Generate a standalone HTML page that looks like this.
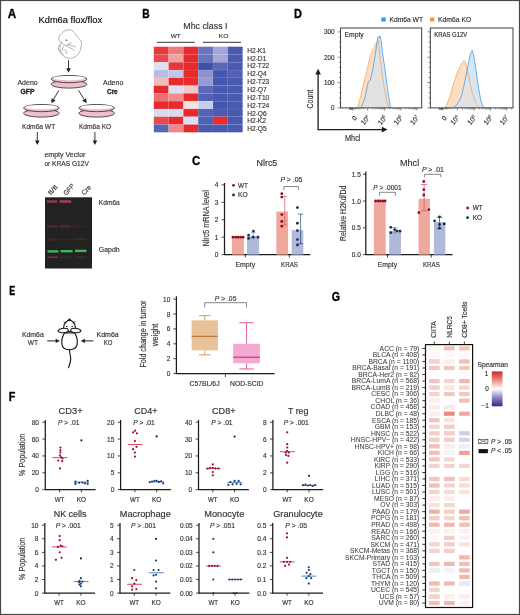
<!DOCTYPE html><html><head><meta charset="utf-8"><style>html,body{margin:0;padding:0;background:#fff;}svg{display:block;will-change:transform;}text{font-family:"Liberation Sans",sans-serif;}</style></head><body>
<svg width="520" height="615" viewBox="0 0 520 615">
<rect x="0.00" y="0.00" width="520.00" height="615.00" fill="#fff"/>
<text x="7.70" y="17.60" font-size="12.4" font-weight="bold" fill="#000" textLength="8.40" lengthAdjust="spacingAndGlyphs" stroke="#000" stroke-width="0.35">A</text>
<text x="142.30" y="17.70" font-size="12.4" font-weight="bold" fill="#000" textLength="7.40" lengthAdjust="spacingAndGlyphs" stroke="#000" stroke-width="0.35">B</text>
<text x="294.00" y="17.50" font-size="12.4" font-weight="bold" fill="#000" textLength="7.90" lengthAdjust="spacingAndGlyphs" stroke="#000" stroke-width="0.35">D</text>
<text x="191.90" y="165.00" font-size="12.4" font-weight="bold" fill="#000" textLength="8.20" lengthAdjust="spacingAndGlyphs" stroke="#000" stroke-width="0.35">C</text>
<text x="9.20" y="295.20" font-size="12.4" font-weight="bold" fill="#000" textLength="5.90" lengthAdjust="spacingAndGlyphs" stroke="#000" stroke-width="0.35">E</text>
<text x="8.70" y="401.40" font-size="12.4" font-weight="bold" fill="#000" textLength="6.60" lengthAdjust="spacingAndGlyphs" stroke="#000" stroke-width="0.35">F</text>
<text x="331.80" y="300.90" font-size="12.4" font-weight="bold" fill="#000" textLength="8.30" lengthAdjust="spacingAndGlyphs" stroke="#000" stroke-width="0.35">G</text>
<text x="38.50" y="22.90" font-size="8.5" textLength="63.60" lengthAdjust="spacingAndGlyphs" stroke="#231f20" stroke-width="0.15">Kdm6a flox/flox</text>
<g fill="none" stroke="#666" stroke-width="0.5" stroke-linejoin="round" stroke-linecap="round"><path d="M61.7,42.7 C60,41.6 58.4,40.4 58.6,38.7 C59,36.4 60,34.8 61.4,33.4 C63.6,31.2 66.2,29.8 68.8,29.8 C71,29.8 72.6,30.6 73.8,32.2 C75,33.8 76.6,36.6 79.2,38.7 C81,40.2 81.6,41.6 81.4,43.6 C81.3,46 80.8,49.8 79.2,52.8 C77.8,55.4 74.6,57.8 70.6,58.4 C67.4,58.8 63.6,56.6 61.2,53.8 C59.4,51.8 58.4,49.6 58.6,47.6 C58.8,45.8 59.8,44.2 61.7,42.7 Z"/><path d="M61.7,42.7 C63.2,44.2 64.8,45.4 66.3,45.5 C67.2,45.5 67.8,45.1 68.4,44.7"/><path d="M68.2,44.8 C70.4,45.2 72.8,45.8 75.5,46.7"/><path d="M66.8,46.2 C68.2,47 69.4,47.6 70.6,48.2 C71.8,48.8 73.2,49.6 74.3,50.6"/><path d="M63.4,46.6 C62.8,47.8 62.2,49 62.2,50.6"/><path d="M65.2,49.6 C65.8,50.8 66.4,52.2 66.9,53.6"/><path d="M60.4,44.9 C59.8,47.2 59.8,49.6 60.6,51.2 C61.3,52.8 62.2,54 63.4,54.8"/><path d="M68.6,43.6 C69.4,42.8 70.3,42.6 71.2,43.2"/><circle cx="66.3" cy="40.3" r="0.8"/></g>
<line x1="68.50" y1="60.20" x2="68.50" y2="68.80" stroke="#231f20" stroke-width="0.9"/>
<path d="M66.20,68.30 L70.80,68.30 L68.50,72.80 Z" fill="#231f20"/>
<ellipse cx="69.05" cy="84.20" rx="17.90" ry="3.9" fill="#f0c0ca" stroke="#333" stroke-width="0.85"/>
<ellipse cx="69.05" cy="79.10" rx="17.90" ry="3.6" fill="#f0c0ca" stroke="#333" stroke-width="0.85"/>
<ellipse cx="69.05" cy="78.10" rx="15.90" ry="2.15" fill="#fff"/>
<ellipse cx="41.40" cy="113.20" rx="17.90" ry="3.9" fill="#f0c0ca" stroke="#333" stroke-width="0.85"/>
<ellipse cx="41.40" cy="108.10" rx="17.90" ry="3.6" fill="#f0c0ca" stroke="#333" stroke-width="0.85"/>
<ellipse cx="41.40" cy="107.10" rx="15.90" ry="2.15" fill="#fff"/>
<ellipse cx="96.70" cy="113.20" rx="17.90" ry="3.9" fill="#f0c0ca" stroke="#333" stroke-width="0.85"/>
<ellipse cx="96.70" cy="108.10" rx="17.90" ry="3.6" fill="#f0c0ca" stroke="#333" stroke-width="0.85"/>
<ellipse cx="96.70" cy="107.10" rx="15.90" ry="2.15" fill="#fff"/>
<text x="17.40" y="84.80" font-size="7" fill="#333" textLength="20.30" lengthAdjust="spacingAndGlyphs" stroke="#333" stroke-width="0.15">Adeno</text>
<text x="20.60" y="93.50" font-size="7" font-weight="bold" fill="#222" textLength="13.90" lengthAdjust="spacingAndGlyphs" stroke="#222" stroke-width="0.3">GFP</text>
<text x="103.00" y="84.80" font-size="7" fill="#333" textLength="20.30" lengthAdjust="spacingAndGlyphs" stroke="#333" stroke-width="0.15">Adeno</text>
<text x="107.00" y="93.50" font-size="7" font-weight="bold" fill="#222" textLength="10.70" lengthAdjust="spacingAndGlyphs" stroke="#222" stroke-width="0.3">Cre</text>
<line x1="58.80" y1="90.40" x2="53.32" y2="99.75" stroke="#231f20" stroke-width="0.9"/>
<path d="M51.59,98.15 L55.56,100.48 L51.30,103.20 Z" fill="#231f20"/>
<line x1="78.50" y1="90.40" x2="84.46" y2="99.82" stroke="#231f20" stroke-width="0.9"/>
<path d="M82.25,100.63 L86.14,98.17 L86.60,103.20 Z" fill="#231f20"/>
<text x="22.00" y="128.70" font-size="7" fill="#333" textLength="33.20" lengthAdjust="spacingAndGlyphs" stroke="#333" stroke-width="0.15">Kdm6a WT</text>
<text x="78.90" y="128.70" font-size="7" fill="#333" textLength="32.30" lengthAdjust="spacingAndGlyphs" stroke="#333" stroke-width="0.15">Kdm6a KO</text>
<line x1="37.30" y1="132.00" x2="37.30" y2="141.00" stroke="#231f20" stroke-width="0.9"/>
<path d="M35.00,140.50 L39.60,140.50 L37.30,145.00 Z" fill="#231f20"/>
<line x1="94.90" y1="132.00" x2="94.90" y2="141.00" stroke="#231f20" stroke-width="0.9"/>
<path d="M92.60,140.50 L97.20,140.50 L94.90,145.00 Z" fill="#231f20"/>
<text x="44.40" y="157.30" font-size="7" fill="#333" textLength="41.00" lengthAdjust="spacingAndGlyphs" stroke="#333" stroke-width="0.15">empty Vector</text>
<text x="44.40" y="166.10" font-size="7" fill="#333" textLength="44.50" lengthAdjust="spacingAndGlyphs" stroke="#333" stroke-width="0.15">or KRAS G12V</text>
<text x="51.00" y="195.60" font-size="6.7" fill="#333" textLength="10.80" lengthAdjust="spacingAndGlyphs" transform="rotate(-48 51.00 195.60)" stroke="#333" stroke-width="0.15">fl/fl</text>
<text x="66.20" y="195.80" font-size="6.7" fill="#333" textLength="13.00" lengthAdjust="spacingAndGlyphs" transform="rotate(-48 66.20 195.80)" stroke="#333" stroke-width="0.15">GFP</text>
<text x="84.20" y="195.60" font-size="6.7" fill="#333" textLength="10.80" lengthAdjust="spacingAndGlyphs" transform="rotate(-48 84.20 195.60)" stroke="#333" stroke-width="0.15">Cre</text>
<rect x="45.00" y="197.30" width="47.00" height="71.20" fill="#222222"/>
<defs><filter id="bl" x="-20%" y="-100%" width="140%" height="300%"><feGaussianBlur stdDeviation="0.55"/></filter></defs>
<g filter="url(#bl)">
<rect x="47.0" y="200.30" width="10.20" height="2.4" fill="#b04050" opacity="0.85"/>
<rect x="59.5" y="200.30" width="11.70" height="2.4" fill="#b84452" opacity="0.9"/>
<rect x="47.0" y="225.20" width="10.50" height="2.2" fill="#6a2c36" opacity="0.7"/>
<rect x="59.5" y="225.20" width="11.50" height="2.2" fill="#6a2c36" opacity="0.7"/>
<rect x="73.5" y="225.60" width="12.50" height="1.8" fill="#4a2a30" opacity="0.5"/>
<rect x="47.0" y="238.70" width="10.50" height="1.8" fill="#5a2a32" opacity="0.6"/>
<rect x="59.5" y="238.80" width="11.50" height="1.6" fill="#4a2a30" opacity="0.5"/>
<rect x="73.5" y="238.50" width="12.50" height="1.8" fill="#5a2a32" opacity="0.6"/>
<rect x="47.5" y="250.20" width="11.10" height="2.4" fill="#48b860" opacity="0.95"/>
<rect x="60.6" y="250.00" width="12.00" height="2.4" fill="#48b860" opacity="0.95"/>
<rect x="75.0" y="249.70" width="11.50" height="2.4" fill="#48b860" opacity="0.95"/>
<rect x="47.5" y="256.30" width="10.50" height="1.8" fill="#8a3042" opacity="0.8"/>
<rect x="60.0" y="256.40" width="12.00" height="1.6" fill="#5a2a34" opacity="0.6"/>
<rect x="75.0" y="256.40" width="11.00" height="1.6" fill="#5a2a34" opacity="0.6"/>
</g>
<text x="98.80" y="204.90" font-size="7.2" fill="#333" textLength="21.00" lengthAdjust="spacingAndGlyphs" stroke="#333" stroke-width="0.15">Kdm6a</text>
<text x="98.80" y="252.00" font-size="7.2" fill="#333" textLength="20.80" lengthAdjust="spacingAndGlyphs" stroke="#333" stroke-width="0.15">Gapdh</text>
<text x="183.30" y="28.80" font-size="9.5" fill="#333" textLength="44.20" lengthAdjust="spacingAndGlyphs" stroke="#333" stroke-width="0.15">Mhc class I</text>
<text x="170.80" y="38.00" font-size="6.2" fill="#333" textLength="10.00" lengthAdjust="spacingAndGlyphs" stroke="#333" stroke-width="0.15">WT</text>
<text x="218.80" y="38.00" font-size="6.2" fill="#333" textLength="9.70" lengthAdjust="spacingAndGlyphs" stroke="#333" stroke-width="0.15">KO</text>
<line x1="156.90" y1="42.30" x2="194.80" y2="42.30" stroke="#333" stroke-width="1.0"/>
<line x1="202.90" y1="42.30" x2="241.00" y2="42.30" stroke="#333" stroke-width="1.0"/>
<rect x="153.80" y="46.70" width="14.85" height="7.83" fill="#e83a3c"/>
<rect x="168.60" y="46.70" width="14.85" height="7.83" fill="#ee7c7e"/>
<rect x="183.40" y="46.70" width="14.85" height="7.83" fill="#e62a2e"/>
<rect x="198.20" y="46.70" width="14.85" height="7.83" fill="#6a74bc"/>
<rect x="213.00" y="46.70" width="14.85" height="7.83" fill="#a4a8d8"/>
<rect x="227.80" y="46.70" width="14.85" height="7.83" fill="#4a5ab0"/>
<rect x="153.80" y="54.48" width="14.85" height="7.83" fill="#e84a4c"/>
<rect x="168.60" y="54.48" width="14.85" height="7.83" fill="#f2a2a2"/>
<rect x="183.40" y="54.48" width="14.85" height="7.83" fill="#e62a2e"/>
<rect x="198.20" y="54.48" width="14.85" height="7.83" fill="#6a74bc"/>
<rect x="213.00" y="54.48" width="14.85" height="7.83" fill="#a4a8d8"/>
<rect x="227.80" y="54.48" width="14.85" height="7.83" fill="#4a5ab0"/>
<rect x="153.80" y="62.26" width="14.85" height="7.83" fill="#dfe0f2"/>
<rect x="168.60" y="62.26" width="14.85" height="7.83" fill="#e6383a"/>
<rect x="183.40" y="62.26" width="14.85" height="7.83" fill="#e62a2e"/>
<rect x="198.20" y="62.26" width="14.85" height="7.83" fill="#3f50a8"/>
<rect x="213.00" y="62.26" width="14.85" height="7.83" fill="#5c68b6"/>
<rect x="227.80" y="62.26" width="14.85" height="7.83" fill="#4a5ab0"/>
<rect x="153.80" y="70.04" width="14.85" height="7.83" fill="#b8bde2"/>
<rect x="168.60" y="70.04" width="14.85" height="7.83" fill="#c4c6e8"/>
<rect x="183.40" y="70.04" width="14.85" height="7.83" fill="#e62a2e"/>
<rect x="198.20" y="70.04" width="14.85" height="7.83" fill="#8c92cc"/>
<rect x="213.00" y="70.04" width="14.85" height="7.83" fill="#4656ae"/>
<rect x="227.80" y="70.04" width="14.85" height="7.83" fill="#5262b4"/>
<rect x="153.80" y="77.82" width="14.85" height="7.83" fill="#f3bcbc"/>
<rect x="168.60" y="77.82" width="14.85" height="7.83" fill="#e62a2e"/>
<rect x="183.40" y="77.82" width="14.85" height="7.83" fill="#e62a2e"/>
<rect x="198.20" y="77.82" width="14.85" height="7.83" fill="#969cd2"/>
<rect x="213.00" y="77.82" width="14.85" height="7.83" fill="#4656ae"/>
<rect x="227.80" y="77.82" width="14.85" height="7.83" fill="#4a5ab0"/>
<rect x="153.80" y="85.60" width="14.85" height="7.83" fill="#e62a2e"/>
<rect x="168.60" y="85.60" width="14.85" height="7.83" fill="#dcdff4"/>
<rect x="183.40" y="85.60" width="14.85" height="7.83" fill="#f5c8c8"/>
<rect x="198.20" y="85.60" width="14.85" height="7.83" fill="#5e68b8"/>
<rect x="213.00" y="85.60" width="14.85" height="7.83" fill="#4a58ae"/>
<rect x="227.80" y="85.60" width="14.85" height="7.83" fill="#4a5ab0"/>
<rect x="153.80" y="93.38" width="14.85" height="7.83" fill="#ec6e70"/>
<rect x="168.60" y="93.38" width="14.85" height="7.83" fill="#f08c8c"/>
<rect x="183.40" y="93.38" width="14.85" height="7.83" fill="#e62a2e"/>
<rect x="198.20" y="93.38" width="14.85" height="7.83" fill="#5262b4"/>
<rect x="213.00" y="93.38" width="14.85" height="7.83" fill="#4a58ae"/>
<rect x="227.80" y="93.38" width="14.85" height="7.83" fill="#4a5ab0"/>
<rect x="153.80" y="101.16" width="14.85" height="7.83" fill="#e62a2e"/>
<rect x="168.60" y="101.16" width="14.85" height="7.83" fill="#e62a2e"/>
<rect x="183.40" y="101.16" width="14.85" height="7.83" fill="#fae0e0"/>
<rect x="198.20" y="101.16" width="14.85" height="7.83" fill="#c8ccec"/>
<rect x="213.00" y="101.16" width="14.85" height="7.83" fill="#4656ae"/>
<rect x="227.80" y="101.16" width="14.85" height="7.83" fill="#4a5ab0"/>
<rect x="153.80" y="108.94" width="14.85" height="7.83" fill="#d8dcf0"/>
<rect x="168.60" y="108.94" width="14.85" height="7.83" fill="#d8dcf0"/>
<rect x="183.40" y="108.94" width="14.85" height="7.83" fill="#e62a2e"/>
<rect x="198.20" y="108.94" width="14.85" height="7.83" fill="#5262b4"/>
<rect x="213.00" y="108.94" width="14.85" height="7.83" fill="#4a5cb0"/>
<rect x="227.80" y="108.94" width="14.85" height="7.83" fill="#4a5ab0"/>
<rect x="153.80" y="116.72" width="14.85" height="7.83" fill="#e84a4c"/>
<rect x="168.60" y="116.72" width="14.85" height="7.83" fill="#e62a2e"/>
<rect x="183.40" y="116.72" width="14.85" height="7.83" fill="#dde0f4"/>
<rect x="198.20" y="116.72" width="14.85" height="7.83" fill="#5060b2"/>
<rect x="213.00" y="116.72" width="14.85" height="7.83" fill="#ee2a2a"/>
<rect x="227.80" y="116.72" width="14.85" height="7.83" fill="#4a5ab0"/>
<rect x="153.80" y="124.50" width="14.85" height="7.83" fill="#5468b8"/>
<rect x="168.60" y="124.50" width="14.85" height="7.83" fill="#ee8888"/>
<rect x="183.40" y="124.50" width="14.85" height="7.83" fill="#e62a2e"/>
<rect x="198.20" y="124.50" width="14.85" height="7.83" fill="#4a5ab0"/>
<rect x="213.00" y="124.50" width="14.85" height="7.83" fill="#4a5ab0"/>
<rect x="227.80" y="124.50" width="14.85" height="7.83" fill="#4a5ab0"/>
<line x1="168.60" y1="46.70" x2="168.60" y2="132.28" stroke="#ffffff" stroke-width="0.35" opacity="0.22"/>
<line x1="183.40" y1="46.70" x2="183.40" y2="132.28" stroke="#ffffff" stroke-width="0.35" opacity="0.22"/>
<line x1="198.20" y1="46.70" x2="198.20" y2="132.28" stroke="#ffffff" stroke-width="0.35" opacity="0.22"/>
<line x1="213.00" y1="46.70" x2="213.00" y2="132.28" stroke="#ffffff" stroke-width="0.35" opacity="0.22"/>
<line x1="227.80" y1="46.70" x2="227.80" y2="132.28" stroke="#ffffff" stroke-width="0.35" opacity="0.22"/>
<line x1="153.80" y1="54.48" x2="242.60" y2="54.48" stroke="#ffffff" stroke-width="0.35" opacity="0.22"/>
<line x1="153.80" y1="62.26" x2="242.60" y2="62.26" stroke="#ffffff" stroke-width="0.35" opacity="0.22"/>
<line x1="153.80" y1="70.04" x2="242.60" y2="70.04" stroke="#ffffff" stroke-width="0.35" opacity="0.22"/>
<line x1="153.80" y1="77.82" x2="242.60" y2="77.82" stroke="#ffffff" stroke-width="0.35" opacity="0.22"/>
<line x1="153.80" y1="85.60" x2="242.60" y2="85.60" stroke="#ffffff" stroke-width="0.35" opacity="0.22"/>
<line x1="153.80" y1="93.38" x2="242.60" y2="93.38" stroke="#ffffff" stroke-width="0.35" opacity="0.22"/>
<line x1="153.80" y1="101.16" x2="242.60" y2="101.16" stroke="#ffffff" stroke-width="0.35" opacity="0.22"/>
<line x1="153.80" y1="108.94" x2="242.60" y2="108.94" stroke="#ffffff" stroke-width="0.35" opacity="0.22"/>
<line x1="153.80" y1="116.72" x2="242.60" y2="116.72" stroke="#ffffff" stroke-width="0.35" opacity="0.22"/>
<line x1="153.80" y1="124.50" x2="242.60" y2="124.50" stroke="#ffffff" stroke-width="0.35" opacity="0.22"/>
<text x="247.20" y="52.70" font-size="6.5" fill="#333" textLength="18.79" lengthAdjust="spacingAndGlyphs" stroke="#333" stroke-width="0.15">H2-K1</text>
<text x="247.20" y="60.56" font-size="6.5" fill="#333" textLength="19.16" lengthAdjust="spacingAndGlyphs" stroke="#333" stroke-width="0.15">H2-D1</text>
<text x="247.20" y="68.42" font-size="6.5" fill="#333" textLength="22.11" lengthAdjust="spacingAndGlyphs" stroke="#333" stroke-width="0.15">H2-T22</text>
<text x="247.20" y="76.28" font-size="6.5" fill="#333" textLength="19.53" lengthAdjust="spacingAndGlyphs" stroke="#333" stroke-width="0.15">H2-Q4</text>
<text x="247.20" y="84.14" font-size="6.5" fill="#333" textLength="22.11" lengthAdjust="spacingAndGlyphs" stroke="#333" stroke-width="0.15">H2-T23</text>
<text x="247.20" y="92.00" font-size="6.5" fill="#333" textLength="19.53" lengthAdjust="spacingAndGlyphs" stroke="#333" stroke-width="0.15">H2-Q7</text>
<text x="247.20" y="99.86" font-size="6.5" fill="#333" textLength="22.11" lengthAdjust="spacingAndGlyphs" stroke="#333" stroke-width="0.15">H2-T10</text>
<text x="247.20" y="107.72" font-size="6.5" fill="#333" textLength="22.11" lengthAdjust="spacingAndGlyphs" stroke="#333" stroke-width="0.15">H2-T24</text>
<text x="247.20" y="115.58" font-size="6.5" fill="#333" textLength="19.53" lengthAdjust="spacingAndGlyphs" stroke="#333" stroke-width="0.15">H2-Q6</text>
<text x="247.20" y="123.44" font-size="6.5" fill="#333" textLength="18.79" lengthAdjust="spacingAndGlyphs" stroke="#333" stroke-width="0.15">H2-K2</text>
<text x="247.20" y="131.30" font-size="6.5" fill="#333" textLength="19.53" lengthAdjust="spacingAndGlyphs" stroke="#333" stroke-width="0.15">H2-Q5</text>
<rect x="381.30" y="17.50" width="4.40" height="4.00" fill="#3d9ad6"/>
<text x="389.50" y="22.10" font-size="6.6" fill="#333" textLength="33.50" lengthAdjust="spacingAndGlyphs" stroke="#333" stroke-width="0.15">Kdm6a WT</text>
<rect x="430.00" y="17.50" width="4.40" height="4.00" fill="#ef9b32"/>
<text x="438.00" y="22.10" font-size="6.6" fill="#333" textLength="33.30" lengthAdjust="spacingAndGlyphs" stroke="#333" stroke-width="0.15">Kdm6a KO</text>
<polygon points="357.70,107.90 357.70,107.60 360.20,98.00 362.60,88.60 365.00,78.50 367.60,67.40 370.40,55.40 372.20,51.50 374.00,48.30 376.80,42.00 378.20,40.60 379.60,53.30 381.70,71.70 384.60,90.00 387.40,104.20 388.80,107.60 388.80,107.90" fill="#fcdfc2"/>
<polygon points="361.20,107.90 361.20,107.60 364.80,98.50 368.30,81.60 370.40,80.20 373.20,67.40 376.10,49.00 377.90,37.00 378.90,36.00 379.60,38.20 380.20,36.40 381.00,39.50 382.40,51.90 385.30,71.70 388.10,92.90 390.20,105.60 391.20,107.60 391.20,107.90" fill="#d5e6f6"/>
<clipPath id="c340"><polygon points="357.70,107.90 357.70,107.60 360.20,98.00 362.60,88.60 365.00,78.50 367.60,67.40 370.40,55.40 372.20,51.50 374.00,48.30 376.80,42.00 378.20,40.60 379.60,53.30 381.70,71.70 384.60,90.00 387.40,104.20 388.80,107.60 388.80,107.90"/></clipPath>
<polygon points="361.20,107.90 361.20,107.60 364.80,98.50 368.30,81.60 370.40,80.20 373.20,67.40 376.10,49.00 377.90,37.00 378.90,36.00 379.60,38.20 380.20,36.40 381.00,39.50 382.40,51.90 385.30,71.70 388.10,92.90 390.20,105.60 391.20,107.60 391.20,107.90" fill="#e4e2e1" clip-path="url(#c340)"/>
<polyline points="357.70,107.60 360.20,98.00 362.60,88.60 365.00,78.50 367.60,67.40 370.40,55.40 372.20,51.50 374.00,48.30 376.80,42.00 378.20,40.60 379.60,53.30 381.70,71.70 384.60,90.00 387.40,104.20 388.80,107.60" fill="none" stroke="#eda04e" stroke-width="0.7"/>
<polyline points="361.20,107.60 364.80,98.50 368.30,81.60 370.40,80.20 373.20,67.40 376.10,49.00 377.90,37.00 378.90,36.00 379.60,38.20 380.20,36.40 381.00,39.50 382.40,51.90 385.30,71.70 388.10,92.90 390.20,105.60 391.20,107.60" fill="none" stroke="#4a9fdc" stroke-width="0.8"/>
<rect x="340.60" y="28.00" width="81.10" height="79.90" fill="none" stroke="#2a2a2a" stroke-width="0.9"/>
<text x="344.60" y="36.50" font-size="7.0" fill="#2a2a2a" textLength="19.00" lengthAdjust="spacingAndGlyphs" stroke="#2a2a2a" stroke-width="0.15">Empty</text>
<line x1="337.60" y1="107.90" x2="340.60" y2="107.90" stroke="#333" stroke-width="0.55"/>
<line x1="339.00" y1="102.83" x2="340.60" y2="102.83" stroke="#333" stroke-width="0.55"/>
<line x1="339.00" y1="97.77" x2="340.60" y2="97.77" stroke="#333" stroke-width="0.55"/>
<line x1="339.00" y1="92.70" x2="340.60" y2="92.70" stroke="#333" stroke-width="0.55"/>
<line x1="339.00" y1="87.63" x2="340.60" y2="87.63" stroke="#333" stroke-width="0.55"/>
<line x1="337.60" y1="82.57" x2="340.60" y2="82.57" stroke="#333" stroke-width="0.55"/>
<line x1="339.00" y1="77.50" x2="340.60" y2="77.50" stroke="#333" stroke-width="0.55"/>
<line x1="339.00" y1="72.43" x2="340.60" y2="72.43" stroke="#333" stroke-width="0.55"/>
<line x1="339.00" y1="67.37" x2="340.60" y2="67.37" stroke="#333" stroke-width="0.55"/>
<line x1="339.00" y1="62.30" x2="340.60" y2="62.30" stroke="#333" stroke-width="0.55"/>
<line x1="337.60" y1="57.23" x2="340.60" y2="57.23" stroke="#333" stroke-width="0.55"/>
<line x1="339.00" y1="52.17" x2="340.60" y2="52.17" stroke="#333" stroke-width="0.55"/>
<line x1="339.00" y1="47.10" x2="340.60" y2="47.10" stroke="#333" stroke-width="0.55"/>
<line x1="339.00" y1="42.03" x2="340.60" y2="42.03" stroke="#333" stroke-width="0.55"/>
<line x1="339.00" y1="36.97" x2="340.60" y2="36.97" stroke="#333" stroke-width="0.55"/>
<line x1="337.60" y1="31.90" x2="340.60" y2="31.90" stroke="#333" stroke-width="0.55"/>
<line x1="353.00" y1="107.90" x2="353.00" y2="110.50" stroke="#333" stroke-width="0.55"/>
<line x1="367.70" y1="107.90" x2="367.70" y2="110.50" stroke="#333" stroke-width="0.55"/>
<line x1="384.70" y1="107.90" x2="384.70" y2="110.50" stroke="#333" stroke-width="0.55"/>
<line x1="400.90" y1="107.90" x2="400.90" y2="110.50" stroke="#333" stroke-width="0.55"/>
<line x1="417.00" y1="107.90" x2="417.00" y2="110.50" stroke="#333" stroke-width="0.55"/>
<line x1="372.82" y1="107.90" x2="372.82" y2="109.40" stroke="#333" stroke-width="0.45"/>
<line x1="375.81" y1="107.90" x2="375.81" y2="109.40" stroke="#333" stroke-width="0.45"/>
<line x1="377.94" y1="107.90" x2="377.94" y2="109.40" stroke="#333" stroke-width="0.45"/>
<line x1="379.58" y1="107.90" x2="379.58" y2="109.40" stroke="#333" stroke-width="0.45"/>
<line x1="380.93" y1="107.90" x2="380.93" y2="109.40" stroke="#333" stroke-width="0.45"/>
<line x1="382.07" y1="107.90" x2="382.07" y2="109.40" stroke="#333" stroke-width="0.45"/>
<line x1="383.05" y1="107.90" x2="383.05" y2="109.40" stroke="#333" stroke-width="0.45"/>
<line x1="383.92" y1="107.90" x2="383.92" y2="109.40" stroke="#333" stroke-width="0.45"/>
<line x1="389.58" y1="107.90" x2="389.58" y2="109.40" stroke="#333" stroke-width="0.45"/>
<line x1="392.43" y1="107.90" x2="392.43" y2="109.40" stroke="#333" stroke-width="0.45"/>
<line x1="394.45" y1="107.90" x2="394.45" y2="109.40" stroke="#333" stroke-width="0.45"/>
<line x1="396.02" y1="107.90" x2="396.02" y2="109.40" stroke="#333" stroke-width="0.45"/>
<line x1="397.31" y1="107.90" x2="397.31" y2="109.40" stroke="#333" stroke-width="0.45"/>
<line x1="398.39" y1="107.90" x2="398.39" y2="109.40" stroke="#333" stroke-width="0.45"/>
<line x1="399.33" y1="107.90" x2="399.33" y2="109.40" stroke="#333" stroke-width="0.45"/>
<line x1="400.16" y1="107.90" x2="400.16" y2="109.40" stroke="#333" stroke-width="0.45"/>
<line x1="405.75" y1="107.90" x2="405.75" y2="109.40" stroke="#333" stroke-width="0.45"/>
<line x1="408.58" y1="107.90" x2="408.58" y2="109.40" stroke="#333" stroke-width="0.45"/>
<line x1="410.59" y1="107.90" x2="410.59" y2="109.40" stroke="#333" stroke-width="0.45"/>
<line x1="412.15" y1="107.90" x2="412.15" y2="109.40" stroke="#333" stroke-width="0.45"/>
<line x1="413.43" y1="107.90" x2="413.43" y2="109.40" stroke="#333" stroke-width="0.45"/>
<line x1="414.51" y1="107.90" x2="414.51" y2="109.40" stroke="#333" stroke-width="0.45"/>
<line x1="415.44" y1="107.90" x2="415.44" y2="109.40" stroke="#333" stroke-width="0.45"/>
<line x1="416.26" y1="107.90" x2="416.26" y2="109.40" stroke="#333" stroke-width="0.45"/>
<line x1="363.50" y1="107.90" x2="363.50" y2="109.30" stroke="#333" stroke-width="0.45"/>
<line x1="361.04" y1="107.90" x2="361.04" y2="109.30" stroke="#333" stroke-width="0.45"/>
<line x1="359.29" y1="107.90" x2="359.29" y2="109.30" stroke="#333" stroke-width="0.45"/>
<line x1="357.94" y1="107.90" x2="357.94" y2="109.30" stroke="#333" stroke-width="0.45"/>
<line x1="356.83" y1="107.90" x2="356.83" y2="109.30" stroke="#333" stroke-width="0.45"/>
<line x1="355.90" y1="107.90" x2="355.90" y2="109.30" stroke="#333" stroke-width="0.45"/>
<line x1="355.09" y1="107.90" x2="355.09" y2="109.30" stroke="#333" stroke-width="0.45"/>
<line x1="354.37" y1="107.90" x2="354.37" y2="109.30" stroke="#333" stroke-width="0.45"/>
<line x1="349.50" y1="107.90" x2="349.50" y2="109.70" stroke="#222" stroke-width="0.6"/>
<line x1="350.30" y1="107.90" x2="350.30" y2="109.70" stroke="#222" stroke-width="0.6"/>
<line x1="351.10" y1="107.90" x2="351.10" y2="109.70" stroke="#222" stroke-width="0.6"/>
<line x1="351.80" y1="107.90" x2="351.80" y2="109.70" stroke="#222" stroke-width="0.6"/>
<line x1="352.40" y1="107.90" x2="352.40" y2="109.70" stroke="#222" stroke-width="0.6"/>
<text x="355.00" y="120.90" font-size="6.6" fill="#333" transform="rotate(-50 355.00 120.90)" stroke="#333" stroke-width="0.15">0</text>
<text x="363.90" y="125.60" font-size="7.0" fill="#333" stroke="#333" stroke-width="0.12" transform="rotate(-50 363.90 125.60)">10<tspan font-size="4.2" dy="-2.7">4</tspan></text>
<text x="380.90" y="125.60" font-size="7.0" fill="#333" stroke="#333" stroke-width="0.12" transform="rotate(-50 380.90 125.60)">10<tspan font-size="4.2" dy="-2.7">5</tspan></text>
<text x="397.10" y="125.60" font-size="7.0" fill="#333" stroke="#333" stroke-width="0.12" transform="rotate(-50 397.10 125.60)">10<tspan font-size="4.2" dy="-2.7">6</tspan></text>
<text x="413.20" y="125.60" font-size="7.0" fill="#333" stroke="#333" stroke-width="0.12" transform="rotate(-50 413.20 125.60)">10<tspan font-size="4.2" dy="-2.7">7</tspan></text>
<polygon points="445.40,107.90 445.40,107.60 447.40,103.00 449.20,98.50 451.00,93.00 452.60,87.00 453.80,82.50 454.60,81.00 455.60,77.50 456.60,74.50 457.80,71.00 458.80,69.50 459.60,67.00 460.40,66.20 461.40,64.20 462.50,62.40 463.30,61.20 464.30,60.80 465.20,61.80 466.10,64.50 467.40,70.00 468.80,77.00 470.40,85.00 472.20,92.50 474.20,99.00 476.40,104.20 478.80,107.60 478.80,107.90" fill="#fcdfc2"/>
<polygon points="453.60,107.90 453.60,107.60 456.50,105.00 459.60,100.50 461.80,95.00 463.70,86.50 465.50,78.00 467.20,69.80 468.60,62.00 469.60,57.40 470.60,53.60 471.30,51.80 472.30,50.30 473.20,53.50 473.90,57.20 475.40,65.80 477.20,78.70 479.20,92.00 480.80,100.00 482.40,105.20 484.20,107.60 484.20,107.90" fill="#d5e6f6"/>
<clipPath id="c430"><polygon points="445.40,107.90 445.40,107.60 447.40,103.00 449.20,98.50 451.00,93.00 452.60,87.00 453.80,82.50 454.60,81.00 455.60,77.50 456.60,74.50 457.80,71.00 458.80,69.50 459.60,67.00 460.40,66.20 461.40,64.20 462.50,62.40 463.30,61.20 464.30,60.80 465.20,61.80 466.10,64.50 467.40,70.00 468.80,77.00 470.40,85.00 472.20,92.50 474.20,99.00 476.40,104.20 478.80,107.60 478.80,107.90"/></clipPath>
<polygon points="453.60,107.90 453.60,107.60 456.50,105.00 459.60,100.50 461.80,95.00 463.70,86.50 465.50,78.00 467.20,69.80 468.60,62.00 469.60,57.40 470.60,53.60 471.30,51.80 472.30,50.30 473.20,53.50 473.90,57.20 475.40,65.80 477.20,78.70 479.20,92.00 480.80,100.00 482.40,105.20 484.20,107.60 484.20,107.90" fill="#e4e2e1" clip-path="url(#c430)"/>
<polyline points="445.40,107.60 447.40,103.00 449.20,98.50 451.00,93.00 452.60,87.00 453.80,82.50 454.60,81.00 455.60,77.50 456.60,74.50 457.80,71.00 458.80,69.50 459.60,67.00 460.40,66.20 461.40,64.20 462.50,62.40 463.30,61.20 464.30,60.80 465.20,61.80 466.10,64.50 467.40,70.00 468.80,77.00 470.40,85.00 472.20,92.50 474.20,99.00 476.40,104.20 478.80,107.60" fill="none" stroke="#eda04e" stroke-width="0.7"/>
<polyline points="453.60,107.60 456.50,105.00 459.60,100.50 461.80,95.00 463.70,86.50 465.50,78.00 467.20,69.80 468.60,62.00 469.60,57.40 470.60,53.60 471.30,51.80 472.30,50.30 473.20,53.50 473.90,57.20 475.40,65.80 477.20,78.70 479.20,92.00 480.80,100.00 482.40,105.20 484.20,107.60" fill="none" stroke="#4a9fdc" stroke-width="0.8"/>
<rect x="430.30" y="28.00" width="82.70" height="79.90" fill="none" stroke="#2a2a2a" stroke-width="0.9"/>
<text x="434.30" y="36.50" font-size="7.0" fill="#2a2a2a" textLength="33.00" lengthAdjust="spacingAndGlyphs" stroke="#2a2a2a" stroke-width="0.15">KRAS G12V</text>
<line x1="427.30" y1="107.90" x2="430.30" y2="107.90" stroke="#333" stroke-width="0.55"/>
<line x1="428.70" y1="102.83" x2="430.30" y2="102.83" stroke="#333" stroke-width="0.55"/>
<line x1="428.70" y1="97.77" x2="430.30" y2="97.77" stroke="#333" stroke-width="0.55"/>
<line x1="428.70" y1="92.70" x2="430.30" y2="92.70" stroke="#333" stroke-width="0.55"/>
<line x1="428.70" y1="87.63" x2="430.30" y2="87.63" stroke="#333" stroke-width="0.55"/>
<line x1="427.30" y1="82.57" x2="430.30" y2="82.57" stroke="#333" stroke-width="0.55"/>
<line x1="428.70" y1="77.50" x2="430.30" y2="77.50" stroke="#333" stroke-width="0.55"/>
<line x1="428.70" y1="72.43" x2="430.30" y2="72.43" stroke="#333" stroke-width="0.55"/>
<line x1="428.70" y1="67.37" x2="430.30" y2="67.37" stroke="#333" stroke-width="0.55"/>
<line x1="428.70" y1="62.30" x2="430.30" y2="62.30" stroke="#333" stroke-width="0.55"/>
<line x1="427.30" y1="57.23" x2="430.30" y2="57.23" stroke="#333" stroke-width="0.55"/>
<line x1="428.70" y1="52.17" x2="430.30" y2="52.17" stroke="#333" stroke-width="0.55"/>
<line x1="428.70" y1="47.10" x2="430.30" y2="47.10" stroke="#333" stroke-width="0.55"/>
<line x1="428.70" y1="42.03" x2="430.30" y2="42.03" stroke="#333" stroke-width="0.55"/>
<line x1="428.70" y1="36.97" x2="430.30" y2="36.97" stroke="#333" stroke-width="0.55"/>
<line x1="427.30" y1="31.90" x2="430.30" y2="31.90" stroke="#333" stroke-width="0.55"/>
<line x1="442.70" y1="107.90" x2="442.70" y2="110.50" stroke="#333" stroke-width="0.55"/>
<line x1="457.40" y1="107.90" x2="457.40" y2="110.50" stroke="#333" stroke-width="0.55"/>
<line x1="474.40" y1="107.90" x2="474.40" y2="110.50" stroke="#333" stroke-width="0.55"/>
<line x1="490.60" y1="107.90" x2="490.60" y2="110.50" stroke="#333" stroke-width="0.55"/>
<line x1="506.70" y1="107.90" x2="506.70" y2="110.50" stroke="#333" stroke-width="0.55"/>
<line x1="462.52" y1="107.90" x2="462.52" y2="109.40" stroke="#333" stroke-width="0.45"/>
<line x1="465.51" y1="107.90" x2="465.51" y2="109.40" stroke="#333" stroke-width="0.45"/>
<line x1="467.64" y1="107.90" x2="467.64" y2="109.40" stroke="#333" stroke-width="0.45"/>
<line x1="469.28" y1="107.90" x2="469.28" y2="109.40" stroke="#333" stroke-width="0.45"/>
<line x1="470.63" y1="107.90" x2="470.63" y2="109.40" stroke="#333" stroke-width="0.45"/>
<line x1="471.77" y1="107.90" x2="471.77" y2="109.40" stroke="#333" stroke-width="0.45"/>
<line x1="472.75" y1="107.90" x2="472.75" y2="109.40" stroke="#333" stroke-width="0.45"/>
<line x1="473.62" y1="107.90" x2="473.62" y2="109.40" stroke="#333" stroke-width="0.45"/>
<line x1="479.28" y1="107.90" x2="479.28" y2="109.40" stroke="#333" stroke-width="0.45"/>
<line x1="482.13" y1="107.90" x2="482.13" y2="109.40" stroke="#333" stroke-width="0.45"/>
<line x1="484.15" y1="107.90" x2="484.15" y2="109.40" stroke="#333" stroke-width="0.45"/>
<line x1="485.72" y1="107.90" x2="485.72" y2="109.40" stroke="#333" stroke-width="0.45"/>
<line x1="487.01" y1="107.90" x2="487.01" y2="109.40" stroke="#333" stroke-width="0.45"/>
<line x1="488.09" y1="107.90" x2="488.09" y2="109.40" stroke="#333" stroke-width="0.45"/>
<line x1="489.03" y1="107.90" x2="489.03" y2="109.40" stroke="#333" stroke-width="0.45"/>
<line x1="489.86" y1="107.90" x2="489.86" y2="109.40" stroke="#333" stroke-width="0.45"/>
<line x1="495.45" y1="107.90" x2="495.45" y2="109.40" stroke="#333" stroke-width="0.45"/>
<line x1="498.28" y1="107.90" x2="498.28" y2="109.40" stroke="#333" stroke-width="0.45"/>
<line x1="500.29" y1="107.90" x2="500.29" y2="109.40" stroke="#333" stroke-width="0.45"/>
<line x1="501.85" y1="107.90" x2="501.85" y2="109.40" stroke="#333" stroke-width="0.45"/>
<line x1="503.13" y1="107.90" x2="503.13" y2="109.40" stroke="#333" stroke-width="0.45"/>
<line x1="504.21" y1="107.90" x2="504.21" y2="109.40" stroke="#333" stroke-width="0.45"/>
<line x1="505.14" y1="107.90" x2="505.14" y2="109.40" stroke="#333" stroke-width="0.45"/>
<line x1="505.96" y1="107.90" x2="505.96" y2="109.40" stroke="#333" stroke-width="0.45"/>
<line x1="511.55" y1="107.90" x2="511.55" y2="109.40" stroke="#333" stroke-width="0.45"/>
<line x1="453.20" y1="107.90" x2="453.20" y2="109.30" stroke="#333" stroke-width="0.45"/>
<line x1="450.74" y1="107.90" x2="450.74" y2="109.30" stroke="#333" stroke-width="0.45"/>
<line x1="448.99" y1="107.90" x2="448.99" y2="109.30" stroke="#333" stroke-width="0.45"/>
<line x1="447.64" y1="107.90" x2="447.64" y2="109.30" stroke="#333" stroke-width="0.45"/>
<line x1="446.53" y1="107.90" x2="446.53" y2="109.30" stroke="#333" stroke-width="0.45"/>
<line x1="445.60" y1="107.90" x2="445.60" y2="109.30" stroke="#333" stroke-width="0.45"/>
<line x1="444.79" y1="107.90" x2="444.79" y2="109.30" stroke="#333" stroke-width="0.45"/>
<line x1="444.07" y1="107.90" x2="444.07" y2="109.30" stroke="#333" stroke-width="0.45"/>
<line x1="439.20" y1="107.90" x2="439.20" y2="109.70" stroke="#222" stroke-width="0.6"/>
<line x1="440.00" y1="107.90" x2="440.00" y2="109.70" stroke="#222" stroke-width="0.6"/>
<line x1="440.80" y1="107.90" x2="440.80" y2="109.70" stroke="#222" stroke-width="0.6"/>
<line x1="441.50" y1="107.90" x2="441.50" y2="109.70" stroke="#222" stroke-width="0.6"/>
<line x1="442.10" y1="107.90" x2="442.10" y2="109.70" stroke="#222" stroke-width="0.6"/>
<text x="444.70" y="120.90" font-size="6.6" fill="#333" transform="rotate(-50 444.70 120.90)" stroke="#333" stroke-width="0.15">0</text>
<text x="453.60" y="125.60" font-size="7.0" fill="#333" stroke="#333" stroke-width="0.12" transform="rotate(-50 453.60 125.60)">10<tspan font-size="4.2" dy="-2.7">4</tspan></text>
<text x="470.60" y="125.60" font-size="7.0" fill="#333" stroke="#333" stroke-width="0.12" transform="rotate(-50 470.60 125.60)">10<tspan font-size="4.2" dy="-2.7">5</tspan></text>
<text x="486.80" y="125.60" font-size="7.0" fill="#333" stroke="#333" stroke-width="0.12" transform="rotate(-50 486.80 125.60)">10<tspan font-size="4.2" dy="-2.7">6</tspan></text>
<text x="502.90" y="125.60" font-size="7.0" fill="#333" stroke="#333" stroke-width="0.12" transform="rotate(-50 502.90 125.60)">10<tspan font-size="4.2" dy="-2.7">7</tspan></text>
<text x="334.60" y="34.30" font-size="6.9" text-anchor="end" fill="#333" textLength="10.59" lengthAdjust="spacingAndGlyphs" stroke="#333" stroke-width="0.15">300</text>
<text x="334.60" y="59.80" font-size="6.9" text-anchor="end" fill="#333" textLength="10.59" lengthAdjust="spacingAndGlyphs" stroke="#333" stroke-width="0.15">200</text>
<text x="334.60" y="85.10" font-size="6.9" text-anchor="end" fill="#333" textLength="10.59" lengthAdjust="spacingAndGlyphs" stroke="#333" stroke-width="0.15">100</text>
<text x="334.60" y="110.40" font-size="6.9" text-anchor="end" fill="#333" textLength="3.53" lengthAdjust="spacingAndGlyphs" stroke="#333" stroke-width="0.15">0</text>
<line x1="318.10" y1="129.60" x2="318.10" y2="73.50" stroke="#1a1a1a" stroke-width="1.3"/>
<path d="M315.3,74.5 L320.9,74.5 L318.1,68.8 Z" fill="#1a1a1a"/>
<line x1="317.50" y1="129.60" x2="382.50" y2="129.60" stroke="#1a1a1a" stroke-width="1.3"/>
<path d="M381.8,126.8 L381.8,132.4 L387.5,129.6 Z" fill="#1a1a1a"/>
<text x="312.90" y="108.60" font-size="8.6" fill="#333" textLength="18.80" lengthAdjust="spacingAndGlyphs" transform="rotate(-90 312.90 108.60)" stroke="#333" stroke-width="0.15">Count</text>
<text x="345.00" y="140.90" font-size="8.6" fill="#333" textLength="15.40" lengthAdjust="spacingAndGlyphs" stroke="#333" stroke-width="0.15">Mhcl</text>
<text x="256.60" y="165.80" font-size="9.0" fill="#333" textLength="20.70" lengthAdjust="spacingAndGlyphs" stroke="#333" stroke-width="0.15">Nlrc5</text>
<line x1="224.50" y1="183.00" x2="224.50" y2="254.90" stroke="#1a1a1a" stroke-width="1.25"/>
<line x1="224.00" y1="254.60" x2="310.30" y2="254.60" stroke="#1a1a1a" stroke-width="1.25"/>
<line x1="221.60" y1="254.60" x2="224.50" y2="254.60" stroke="#1a1a1a" stroke-width="0.8"/>
<text x="218.40" y="257.10" font-size="7.1" text-anchor="end" fill="#333" textLength="3.63" lengthAdjust="spacingAndGlyphs" stroke="#333" stroke-width="0.15">0</text>
<line x1="221.60" y1="237.18" x2="224.50" y2="237.18" stroke="#1a1a1a" stroke-width="0.8"/>
<text x="218.40" y="239.68" font-size="7.1" text-anchor="end" fill="#333" textLength="3.63" lengthAdjust="spacingAndGlyphs" stroke="#333" stroke-width="0.15">1</text>
<line x1="221.60" y1="219.76" x2="224.50" y2="219.76" stroke="#1a1a1a" stroke-width="0.8"/>
<text x="218.40" y="222.26" font-size="7.1" text-anchor="end" fill="#333" textLength="3.63" lengthAdjust="spacingAndGlyphs" stroke="#333" stroke-width="0.15">2</text>
<line x1="221.60" y1="202.34" x2="224.50" y2="202.34" stroke="#1a1a1a" stroke-width="0.8"/>
<text x="218.40" y="204.84" font-size="7.1" text-anchor="end" fill="#333" textLength="3.63" lengthAdjust="spacingAndGlyphs" stroke="#333" stroke-width="0.15">3</text>
<line x1="221.60" y1="184.92" x2="224.50" y2="184.92" stroke="#1a1a1a" stroke-width="0.8"/>
<text x="218.40" y="187.42" font-size="7.1" text-anchor="end" fill="#333" textLength="3.63" lengthAdjust="spacingAndGlyphs" stroke="#333" stroke-width="0.15">4</text>
<line x1="245.30" y1="254.60" x2="245.30" y2="257.60" stroke="#1a1a1a" stroke-width="0.8"/>
<line x1="289.30" y1="254.60" x2="289.30" y2="257.60" stroke="#1a1a1a" stroke-width="0.8"/>
<text x="245.30" y="266.60" font-size="6.8" text-anchor="middle" fill="#333" textLength="19.60" lengthAdjust="spacingAndGlyphs" stroke="#333" stroke-width="0.15">Empty</text>
<text x="289.50" y="266.60" font-size="6.8" text-anchor="middle" fill="#333" textLength="16.80" lengthAdjust="spacingAndGlyphs" stroke="#333" stroke-width="0.15">KRAS</text>
<rect x="231.90" y="237.18" width="12.00" height="17.42" fill="#eea99c"/>
<rect x="246.90" y="235.79" width="12.20" height="18.81" fill="#b0b9d9"/>
<rect x="276.30" y="211.60" width="11.80" height="43.00" fill="#eea99c"/>
<rect x="291.70" y="230.10" width="11.60" height="24.50" fill="#b0b9d9"/>
<line x1="284.80" y1="196.24" x2="284.80" y2="224.99" stroke="#d84a60" stroke-width="0.7"/>
<line x1="282.80" y1="196.24" x2="286.80" y2="196.24" stroke="#d84a60" stroke-width="0.7"/>
<line x1="282.80" y1="224.99" x2="286.80" y2="224.99" stroke="#d84a60" stroke-width="0.7"/>
<line x1="300.60" y1="214.19" x2="300.60" y2="243.80" stroke="#2a4a74" stroke-width="0.7"/>
<line x1="298.00" y1="214.19" x2="303.20" y2="214.19" stroke="#2a4a74" stroke-width="0.7"/>
<line x1="298.00" y1="243.80" x2="303.20" y2="243.80" stroke="#2a4a74" stroke-width="0.7"/>
<line x1="253.20" y1="232.65" x2="253.20" y2="238.05" stroke="#7080a8" stroke-width="0.6"/>
<line x1="250.90" y1="232.65" x2="255.50" y2="232.65" stroke="#7080a8" stroke-width="0.6"/>
<line x1="250.90" y1="238.05" x2="255.50" y2="238.05" stroke="#7080a8" stroke-width="0.6"/>
<circle cx="233.00" cy="237.18" r="1.4" fill="#8e0c26"/>
<circle cx="235.60" cy="237.18" r="1.4" fill="#8e0c26"/>
<circle cx="238.10" cy="237.18" r="1.4" fill="#8e0c26"/>
<circle cx="240.60" cy="237.18" r="1.4" fill="#8e0c26"/>
<circle cx="243.10" cy="237.18" r="1.4" fill="#8e0c26"/>
<circle cx="248.60" cy="235.09" r="1.4" fill="#142f52"/>
<circle cx="248.60" cy="238.40" r="1.4" fill="#142f52"/>
<circle cx="253.40" cy="231.08" r="1.4" fill="#142f52"/>
<circle cx="253.20" cy="237.18" r="1.4" fill="#142f52"/>
<circle cx="258.00" cy="237.18" r="1.4" fill="#142f52"/>
<circle cx="281.80" cy="193.63" r="1.4" fill="#8e0c26"/>
<circle cx="281.80" cy="197.11" r="1.4" fill="#8e0c26"/>
<circle cx="281.80" cy="214.53" r="1.4" fill="#8e0c26"/>
<circle cx="281.80" cy="221.50" r="1.4" fill="#8e0c26"/>
<circle cx="281.80" cy="226.21" r="1.4" fill="#8e0c26"/>
<circle cx="297.40" cy="207.57" r="1.4" fill="#142f52"/>
<circle cx="297.40" cy="223.24" r="1.4" fill="#142f52"/>
<circle cx="297.40" cy="230.56" r="1.4" fill="#142f52"/>
<circle cx="297.40" cy="239.62" r="1.4" fill="#142f52"/>
<circle cx="297.40" cy="245.02" r="1.4" fill="#142f52"/>
<circle cx="233.50" cy="185.30" r="1.4" fill="#8e0c26"/>
<text x="238.00" y="187.60" font-size="6.6" fill="#333" textLength="10.00" lengthAdjust="spacingAndGlyphs" stroke="#333" stroke-width="0.15">WT</text>
<circle cx="233.50" cy="195.00" r="1.4" fill="#142f52"/>
<text x="238.00" y="197.30" font-size="6.6" fill="#333" textLength="9.60" lengthAdjust="spacingAndGlyphs" stroke="#333" stroke-width="0.15">KO</text>
<text x="280.40" y="182.40" font-size="6.4" fill="#333" textLength="21.90" lengthAdjust="spacingAndGlyphs" stroke="#333" stroke-width="0.15"><tspan font-style="italic">P</tspan> &gt; .05</text>
<path d="M283.8,190 L283.8,186.6 L298.4,186.6 L298.4,190" fill="none" stroke="#333" stroke-width="0.6"/>
<text x="208.90" y="218.30" font-size="8.6" text-anchor="middle" fill="#333" textLength="56.50" lengthAdjust="spacingAndGlyphs" transform="rotate(-90 208.90 218.30)" stroke="#333" stroke-width="0.15">Nlrc5 mRNA level</text>
<text x="400.00" y="165.80" font-size="9.0" fill="#333" textLength="19.20" lengthAdjust="spacingAndGlyphs" stroke="#333" stroke-width="0.15">Mhcl</text>
<line x1="365.80" y1="171.50" x2="365.80" y2="254.90" stroke="#1a1a1a" stroke-width="1.25"/>
<line x1="365.30" y1="254.60" x2="452.60" y2="254.60" stroke="#1a1a1a" stroke-width="1.25"/>
<line x1="362.90" y1="254.60" x2="365.80" y2="254.60" stroke="#1a1a1a" stroke-width="0.8"/>
<text x="360.80" y="257.10" font-size="7.1" text-anchor="end" fill="#333" textLength="9.08" lengthAdjust="spacingAndGlyphs" stroke="#333" stroke-width="0.15">0.0</text>
<line x1="362.90" y1="227.83" x2="365.80" y2="227.83" stroke="#1a1a1a" stroke-width="0.8"/>
<text x="360.80" y="230.33" font-size="7.1" text-anchor="end" fill="#333" textLength="9.08" lengthAdjust="spacingAndGlyphs" stroke="#333" stroke-width="0.15">0.5</text>
<line x1="362.90" y1="201.07" x2="365.80" y2="201.07" stroke="#1a1a1a" stroke-width="0.8"/>
<text x="360.80" y="203.57" font-size="7.1" text-anchor="end" fill="#333" textLength="9.08" lengthAdjust="spacingAndGlyphs" stroke="#333" stroke-width="0.15">1.0</text>
<line x1="362.90" y1="174.31" x2="365.80" y2="174.31" stroke="#1a1a1a" stroke-width="0.8"/>
<text x="360.80" y="176.81" font-size="7.1" text-anchor="end" fill="#333" textLength="9.08" lengthAdjust="spacingAndGlyphs" stroke="#333" stroke-width="0.15">1.5</text>
<line x1="387.50" y1="254.60" x2="387.50" y2="257.60" stroke="#1a1a1a" stroke-width="0.8"/>
<line x1="431.20" y1="254.60" x2="431.20" y2="257.60" stroke="#1a1a1a" stroke-width="0.8"/>
<text x="387.40" y="266.60" font-size="6.8" text-anchor="middle" fill="#333" textLength="19.30" lengthAdjust="spacingAndGlyphs" stroke="#333" stroke-width="0.15">Empty</text>
<text x="431.40" y="266.60" font-size="6.8" text-anchor="middle" fill="#333" textLength="16.80" lengthAdjust="spacingAndGlyphs" stroke="#333" stroke-width="0.15">KRAS</text>
<rect x="373.90" y="201.07" width="11.80" height="53.53" fill="#eea99c"/>
<rect x="389.20" y="231.00" width="11.80" height="23.60" fill="#b0b9d9"/>
<rect x="418.50" y="198.80" width="11.40" height="55.80" fill="#eea99c"/>
<rect x="433.90" y="222.00" width="11.40" height="32.60" fill="#b0b9d9"/>
<line x1="424.10" y1="184.50" x2="424.10" y2="210.70" stroke="#d84a60" stroke-width="0.7"/>
<line x1="421.10" y1="184.50" x2="427.10" y2="184.50" stroke="#d84a60" stroke-width="0.7"/>
<line x1="421.10" y1="210.70" x2="427.10" y2="210.70" stroke="#d84a60" stroke-width="0.7"/>
<line x1="439.50" y1="217.30" x2="439.50" y2="228.80" stroke="#2a4a74" stroke-width="0.7"/>
<line x1="436.50" y1="217.30" x2="442.50" y2="217.30" stroke="#2a4a74" stroke-width="0.7"/>
<line x1="436.50" y1="228.80" x2="442.50" y2="228.80" stroke="#2a4a74" stroke-width="0.7"/>
<line x1="395.00" y1="227.50" x2="395.00" y2="233.00" stroke="#7080a8" stroke-width="0.6"/>
<line x1="392.60" y1="227.50" x2="397.40" y2="227.50" stroke="#7080a8" stroke-width="0.6"/>
<line x1="392.60" y1="233.00" x2="397.40" y2="233.00" stroke="#7080a8" stroke-width="0.6"/>
<circle cx="375.60" cy="201.00" r="1.4" fill="#8e0c26"/>
<circle cx="378.10" cy="201.00" r="1.4" fill="#8e0c26"/>
<circle cx="380.50" cy="201.00" r="1.4" fill="#8e0c26"/>
<circle cx="382.90" cy="201.00" r="1.4" fill="#8e0c26"/>
<circle cx="385.10" cy="201.00" r="1.4" fill="#8e0c26"/>
<circle cx="390.80" cy="227.30" r="1.4" fill="#142f52"/>
<circle cx="390.80" cy="232.70" r="1.4" fill="#142f52"/>
<circle cx="394.60" cy="229.60" r="1.4" fill="#142f52"/>
<circle cx="396.90" cy="230.80" r="1.4" fill="#142f52"/>
<circle cx="400.00" cy="231.20" r="1.4" fill="#142f52"/>
<circle cx="423.80" cy="181.50" r="1.4" fill="#8e0c26"/>
<circle cx="423.80" cy="189.60" r="1.4" fill="#8e0c26"/>
<circle cx="423.80" cy="195.00" r="1.4" fill="#8e0c26"/>
<circle cx="418.90" cy="212.70" r="1.4" fill="#8e0c26"/>
<circle cx="428.90" cy="209.60" r="1.4" fill="#8e0c26"/>
<circle cx="439.50" cy="216.80" r="1.4" fill="#142f52"/>
<circle cx="434.60" cy="220.80" r="1.4" fill="#142f52"/>
<circle cx="444.20" cy="223.90" r="1.4" fill="#142f52"/>
<circle cx="439.50" cy="224.50" r="1.4" fill="#142f52"/>
<circle cx="439.50" cy="228.10" r="1.4" fill="#142f52"/>
<text x="373.30" y="189.60" font-size="6.4" fill="#333" textLength="28.30" lengthAdjust="spacingAndGlyphs" stroke="#333" stroke-width="0.15"><tspan font-style="italic">P</tspan> &gt; .0001</text>
<path d="M379.6,195.8 L379.6,192.3 L395.4,192.3 L395.4,195.8" fill="none" stroke="#333" stroke-width="0.6"/>
<text x="421.90" y="171.50" font-size="6.4" fill="#333" textLength="21.90" lengthAdjust="spacingAndGlyphs" stroke="#333" stroke-width="0.15"><tspan font-style="italic">P</tspan> &gt; .01</text>
<path d="M424.7,177.2 L424.7,174.3 L440.8,174.3 L440.8,177.2" fill="none" stroke="#333" stroke-width="0.6"/>
<circle cx="467.60" cy="208.00" r="1.4" fill="#8e0c26"/>
<text x="472.70" y="210.30" font-size="6.6" fill="#333" textLength="9.90" lengthAdjust="spacingAndGlyphs" stroke="#333" stroke-width="0.15">WT</text>
<circle cx="467.60" cy="217.70" r="1.4" fill="#142f52"/>
<text x="472.70" y="220.00" font-size="6.6" fill="#333" textLength="9.40" lengthAdjust="spacingAndGlyphs" stroke="#333" stroke-width="0.15">KO</text>
<text x="346.30" y="213.30" font-size="8.6" text-anchor="middle" fill="#333" textLength="55.60" lengthAdjust="spacingAndGlyphs" transform="rotate(-90 346.30 213.30)" stroke="#333" stroke-width="0.15">Relative H2Kd/Dd</text>
<text x="21.90" y="337.20" font-size="6.6" fill="#333" textLength="21.90" lengthAdjust="spacingAndGlyphs" stroke="#333" stroke-width="0.15">Kdm6a</text>
<text x="27.70" y="344.70" font-size="6.6" fill="#333" textLength="10.30" lengthAdjust="spacingAndGlyphs" stroke="#333" stroke-width="0.15">WT</text>
<text x="96.50" y="337.20" font-size="6.6" fill="#333" textLength="22.20" lengthAdjust="spacingAndGlyphs" stroke="#333" stroke-width="0.15">Kdm6a</text>
<text x="103.80" y="344.70" font-size="6.6" fill="#333" textLength="8.60" lengthAdjust="spacingAndGlyphs" stroke="#333" stroke-width="0.15">KO</text>
<line x1="47.30" y1="340.90" x2="56.20" y2="340.90" stroke="#231f20" stroke-width="1.0"/>
<path d="M55.70,343.00 L55.70,338.80 L59.90,340.90 Z" fill="#231f20"/>
<line x1="93.50" y1="340.90" x2="84.40" y2="340.90" stroke="#231f20" stroke-width="1.0"/>
<path d="M84.90,338.80 L84.90,343.00 L80.70,340.90 Z" fill="#231f20"/>
<g fill="#fff" stroke="#1a1a1a" stroke-width="1.15" stroke-linejoin="round" stroke-linecap="round"><path d="M69.5,349.7 C66.2,349.7 62.4,348.2 61.9,344.2 C61.4,340.2 62.6,336.2 64.4,333.0 L74.8,333.0 C76.6,336.2 77.8,340.2 77.2,344.2 C76.6,348.2 72.8,349.7 69.5,349.7 Z"/><path d="M69.5,349.9 C69.3,353 70.9,356 70.7,359.4 C70.5,362.6 69.3,365.4 68.5,367.6" fill="none"/><path d="M69.5,319.3 C67.6,320.6 65.2,322.4 64.2,324.4 C63.4,326.2 63.4,328.6 64.4,331.6 L74.6,331.6 C75.6,328.6 75.6,326.2 74.8,324.4 C73.8,322.4 71.4,320.6 69.5,319.3 Z"/><path d="M67.6,328.8 C65.6,328.2 61.4,328.4 59.2,329.4 C57.6,330.2 57.8,331.6 59.6,332.2 C61.8,332.9 65.4,332.8 67.6,331.9 C68.4,331 68.3,329.6 67.6,328.8 Z"/><path d="M71.3,328.8 C73.3,328.2 77.6,328.4 79.8,329.4 C81.4,330.2 81.2,331.6 79.4,332.2 C77.2,332.9 73.6,332.8 71.3,331.9 C70.5,331 70.6,329.6 71.3,328.8 Z"/></g>
<circle cx="66.80" cy="326.50" r="0.75" fill="#1a1a1a"/>
<circle cx="72.20" cy="326.50" r="0.75" fill="#1a1a1a"/>
<g stroke="#1a1a1a" stroke-width="0.6" stroke-linecap="round"><line x1="64.6" y1="322.6" x2="63.9" y2="321.4"/><line x1="74.4" y1="322.6" x2="75.1" y2="321.4"/><line x1="69.5" y1="319.3" x2="69.5" y2="318.5"/></g>
<line x1="176.40" y1="296.30" x2="176.40" y2="374.00" stroke="#1a1a1a" stroke-width="1.25"/>
<line x1="176.00" y1="373.70" x2="274.50" y2="373.70" stroke="#1a1a1a" stroke-width="1.25"/>
<line x1="173.40" y1="373.60" x2="176.40" y2="373.60" stroke="#1a1a1a" stroke-width="0.8"/>
<text x="170.30" y="376.10" font-size="7.1" text-anchor="end" fill="#333" textLength="3.63" lengthAdjust="spacingAndGlyphs" stroke="#333" stroke-width="0.15">0</text>
<line x1="173.40" y1="358.70" x2="176.40" y2="358.70" stroke="#1a1a1a" stroke-width="0.8"/>
<text x="170.30" y="361.20" font-size="7.1" text-anchor="end" fill="#333" textLength="3.63" lengthAdjust="spacingAndGlyphs" stroke="#333" stroke-width="0.15">2</text>
<line x1="173.40" y1="343.80" x2="176.40" y2="343.80" stroke="#1a1a1a" stroke-width="0.8"/>
<text x="170.30" y="346.30" font-size="7.1" text-anchor="end" fill="#333" textLength="3.63" lengthAdjust="spacingAndGlyphs" stroke="#333" stroke-width="0.15">4</text>
<line x1="173.40" y1="328.90" x2="176.40" y2="328.90" stroke="#1a1a1a" stroke-width="0.8"/>
<text x="170.30" y="331.40" font-size="7.1" text-anchor="end" fill="#333" textLength="3.63" lengthAdjust="spacingAndGlyphs" stroke="#333" stroke-width="0.15">6</text>
<line x1="173.40" y1="314.00" x2="176.40" y2="314.00" stroke="#1a1a1a" stroke-width="0.8"/>
<text x="170.30" y="316.50" font-size="7.1" text-anchor="end" fill="#333" textLength="3.63" lengthAdjust="spacingAndGlyphs" stroke="#333" stroke-width="0.15">8</text>
<line x1="173.40" y1="299.10" x2="176.40" y2="299.10" stroke="#1a1a1a" stroke-width="0.8"/>
<text x="170.30" y="301.60" font-size="7.1" text-anchor="end" fill="#333" textLength="7.27" lengthAdjust="spacingAndGlyphs" stroke="#333" stroke-width="0.15">10</text>
<line x1="225.40" y1="373.70" x2="225.40" y2="377.00" stroke="#1a1a1a" stroke-width="0.8"/>
<line x1="204.75" y1="320.33" x2="204.75" y2="315.64" stroke="#c99a62" stroke-width="0.9"/>
<line x1="204.75" y1="350.36" x2="204.75" y2="354.83" stroke="#c99a62" stroke-width="0.9"/>
<line x1="199.05" y1="315.64" x2="210.45" y2="315.64" stroke="#c99a62" stroke-width="1.0"/>
<line x1="199.05" y1="354.83" x2="210.45" y2="354.83" stroke="#c99a62" stroke-width="1.0"/>
<rect x="191.60" y="320.33" width="26.30" height="30.02" fill="#e9c29a"/>
<line x1="191.60" y1="336.35" x2="217.90" y2="336.35" stroke="#b8783a" stroke-width="1.2"/>
<line x1="246.55" y1="343.80" x2="246.55" y2="322.79" stroke="#e0509a" stroke-width="0.9"/>
<line x1="246.55" y1="363.32" x2="246.55" y2="368.98" stroke="#e0509a" stroke-width="0.9"/>
<line x1="239.35" y1="322.79" x2="253.75" y2="322.79" stroke="#e0509a" stroke-width="1.0"/>
<line x1="239.35" y1="368.98" x2="253.75" y2="368.98" stroke="#e0509a" stroke-width="1.0"/>
<rect x="233.20" y="343.80" width="26.70" height="19.52" fill="#f5a9d0"/>
<line x1="233.20" y1="357.21" x2="259.90" y2="357.21" stroke="#d82c86" stroke-width="1.2"/>
<path d="M204.8,307.4 L204.8,302.7 L246.5,302.7 L246.5,307.4" fill="none" stroke="#333" stroke-width="0.6"/>
<text x="214.80" y="300.90" font-size="6.4" fill="#333" textLength="21.60" lengthAdjust="spacingAndGlyphs" stroke="#333" stroke-width="0.15"><tspan font-style="italic">P</tspan> &gt; .05</text>
<text x="189.60" y="386.20" font-size="6.8" fill="#333" textLength="30.00" lengthAdjust="spacingAndGlyphs" stroke="#333" stroke-width="0.15">C57BL/6J</text>
<text x="230.00" y="386.20" font-size="6.8" fill="#333" textLength="33.50" lengthAdjust="spacingAndGlyphs" stroke="#333" stroke-width="0.15">NOD-SCID</text>
<text x="145.60" y="334.00" font-size="8.8" text-anchor="middle" fill="#333" textLength="67.00" lengthAdjust="spacingAndGlyphs" transform="rotate(-90 145.60 334.00)" stroke="#333" stroke-width="0.15">Fold change in tumor</text>
<text x="158.20" y="335.00" font-size="8.8" text-anchor="middle" fill="#333" textLength="22.70" lengthAdjust="spacingAndGlyphs" transform="rotate(-90 158.20 335.00)" stroke="#333" stroke-width="0.15">weight</text>
<line x1="45.30" y1="419.90" x2="45.30" y2="490.00" stroke="#1a1a1a" stroke-width="1.25"/>
<line x1="44.90" y1="489.70" x2="95.60" y2="489.70" stroke="#1a1a1a" stroke-width="1.25"/>
<line x1="42.40" y1="489.70" x2="45.30" y2="489.70" stroke="#1a1a1a" stroke-width="0.8"/>
<text x="39.00" y="492.20" font-size="7.1" text-anchor="end" fill="#333" textLength="3.63" lengthAdjust="spacingAndGlyphs" stroke="#333" stroke-width="0.15">0</text>
<line x1="42.40" y1="472.82" x2="45.30" y2="472.82" stroke="#1a1a1a" stroke-width="0.8"/>
<text x="39.00" y="475.32" font-size="7.1" text-anchor="end" fill="#333" textLength="7.27" lengthAdjust="spacingAndGlyphs" stroke="#333" stroke-width="0.15">20</text>
<line x1="42.40" y1="455.95" x2="45.30" y2="455.95" stroke="#1a1a1a" stroke-width="0.8"/>
<text x="39.00" y="458.45" font-size="7.1" text-anchor="end" fill="#333" textLength="7.27" lengthAdjust="spacingAndGlyphs" stroke="#333" stroke-width="0.15">40</text>
<line x1="42.40" y1="439.07" x2="45.30" y2="439.07" stroke="#1a1a1a" stroke-width="0.8"/>
<text x="39.00" y="441.57" font-size="7.1" text-anchor="end" fill="#333" textLength="7.27" lengthAdjust="spacingAndGlyphs" stroke="#333" stroke-width="0.15">60</text>
<line x1="42.40" y1="422.20" x2="45.30" y2="422.20" stroke="#1a1a1a" stroke-width="0.8"/>
<text x="39.00" y="424.70" font-size="7.1" text-anchor="end" fill="#333" textLength="7.27" lengthAdjust="spacingAndGlyphs" stroke="#333" stroke-width="0.15">80</text>
<line x1="59.60" y1="489.70" x2="59.60" y2="492.30" stroke="#1a1a1a" stroke-width="0.8"/>
<line x1="81.40" y1="489.70" x2="81.40" y2="492.30" stroke="#1a1a1a" stroke-width="0.8"/>
<text x="59.60" y="501.60" font-size="6.6" text-anchor="middle" fill="#333" textLength="9.60" lengthAdjust="spacingAndGlyphs" stroke="#333" stroke-width="0.15">WT</text>
<text x="81.40" y="501.60" font-size="6.6" text-anchor="middle" fill="#333" textLength="9.30" lengthAdjust="spacingAndGlyphs" stroke="#333" stroke-width="0.15">KO</text>
<text x="70.60" y="414.10" font-size="8.4" text-anchor="middle" fill="#333" textLength="24.00" lengthAdjust="spacingAndGlyphs" stroke="#333" stroke-width="0.15">CD3+</text>
<text x="68.70" y="424.50" font-size="6.4" text-anchor="middle" fill="#333" textLength="21.40" lengthAdjust="spacingAndGlyphs" stroke="#333" stroke-width="0.15"><tspan font-style="italic">P</tspan> &gt; .01</text>
<line x1="52.40" y1="457.64" x2="67.20" y2="457.64" stroke="#d8304a" stroke-width="0.9"/>
<line x1="74.20" y1="482.11" x2="89.00" y2="482.11" stroke="#3d7fc0" stroke-width="0.9"/>
<circle cx="60.40" cy="447.51" r="1.1" fill="#9c1030"/>
<circle cx="60.40" cy="450.04" r="1.1" fill="#9c1030"/>
<circle cx="60.40" cy="452.41" r="1.1" fill="#9c1030"/>
<circle cx="60.00" cy="455.27" r="1.1" fill="#9c1030"/>
<circle cx="60.90" cy="457.22" r="1.1" fill="#9c1030"/>
<circle cx="62.50" cy="458.48" r="1.1" fill="#9c1030"/>
<circle cx="58.20" cy="460.51" r="1.1" fill="#9c1030"/>
<circle cx="62.20" cy="461.18" r="1.1" fill="#9c1030"/>
<circle cx="60.00" cy="468.44" r="1.1" fill="#9c1030"/>
<circle cx="75.40" cy="481.68" r="1.1" fill="#183e6c"/>
<circle cx="75.40" cy="483.96" r="1.1" fill="#183e6c"/>
<circle cx="79.20" cy="482.78" r="1.1" fill="#183e6c"/>
<circle cx="82.40" cy="482.53" r="1.1" fill="#183e6c"/>
<circle cx="84.90" cy="483.37" r="1.1" fill="#183e6c"/>
<circle cx="87.70" cy="480.84" r="1.1" fill="#183e6c"/>
<circle cx="87.70" cy="483.79" r="1.1" fill="#183e6c"/>
<circle cx="81.40" cy="440.34" r="1.1" fill="#1a2433"/>
<line x1="120.60" y1="419.90" x2="120.60" y2="490.00" stroke="#1a1a1a" stroke-width="1.25"/>
<line x1="120.20" y1="489.70" x2="170.90" y2="489.70" stroke="#1a1a1a" stroke-width="1.25"/>
<line x1="117.70" y1="489.70" x2="120.60" y2="489.70" stroke="#1a1a1a" stroke-width="0.8"/>
<text x="114.30" y="492.20" font-size="7.1" text-anchor="end" fill="#333" textLength="3.63" lengthAdjust="spacingAndGlyphs" stroke="#333" stroke-width="0.15">0</text>
<line x1="117.70" y1="472.82" x2="120.60" y2="472.82" stroke="#1a1a1a" stroke-width="0.8"/>
<text x="114.30" y="475.32" font-size="7.1" text-anchor="end" fill="#333" textLength="3.63" lengthAdjust="spacingAndGlyphs" stroke="#333" stroke-width="0.15">5</text>
<line x1="117.70" y1="455.95" x2="120.60" y2="455.95" stroke="#1a1a1a" stroke-width="0.8"/>
<text x="114.30" y="458.45" font-size="7.1" text-anchor="end" fill="#333" textLength="7.27" lengthAdjust="spacingAndGlyphs" stroke="#333" stroke-width="0.15">10</text>
<line x1="117.70" y1="439.07" x2="120.60" y2="439.07" stroke="#1a1a1a" stroke-width="0.8"/>
<text x="114.30" y="441.57" font-size="7.1" text-anchor="end" fill="#333" textLength="7.27" lengthAdjust="spacingAndGlyphs" stroke="#333" stroke-width="0.15">15</text>
<line x1="117.70" y1="422.20" x2="120.60" y2="422.20" stroke="#1a1a1a" stroke-width="0.8"/>
<text x="114.30" y="424.70" font-size="7.1" text-anchor="end" fill="#333" textLength="7.27" lengthAdjust="spacingAndGlyphs" stroke="#333" stroke-width="0.15">20</text>
<line x1="134.90" y1="489.70" x2="134.90" y2="492.30" stroke="#1a1a1a" stroke-width="0.8"/>
<line x1="156.70" y1="489.70" x2="156.70" y2="492.30" stroke="#1a1a1a" stroke-width="0.8"/>
<text x="134.90" y="501.60" font-size="6.6" text-anchor="middle" fill="#333" textLength="9.60" lengthAdjust="spacingAndGlyphs" stroke="#333" stroke-width="0.15">WT</text>
<text x="156.70" y="501.60" font-size="6.6" text-anchor="middle" fill="#333" textLength="9.30" lengthAdjust="spacingAndGlyphs" stroke="#333" stroke-width="0.15">KO</text>
<text x="145.90" y="414.10" font-size="8.4" text-anchor="middle" fill="#333" textLength="23.10" lengthAdjust="spacingAndGlyphs" stroke="#333" stroke-width="0.15">CD4+</text>
<text x="144.00" y="424.50" font-size="6.4" text-anchor="middle" fill="#333" textLength="21.40" lengthAdjust="spacingAndGlyphs" stroke="#333" stroke-width="0.15"><tspan font-style="italic">P</tspan> &gt; .01</text>
<line x1="127.70" y1="444.47" x2="142.50" y2="444.47" stroke="#d8304a" stroke-width="0.9"/>
<line x1="149.50" y1="481.94" x2="164.30" y2="481.94" stroke="#3d7fc0" stroke-width="0.9"/>
<circle cx="133.10" cy="432.32" r="1.1" fill="#9c1030"/>
<circle cx="135.10" cy="430.64" r="1.1" fill="#9c1030"/>
<circle cx="136.90" cy="433.34" r="1.1" fill="#9c1030"/>
<circle cx="134.90" cy="441.10" r="1.1" fill="#9c1030"/>
<circle cx="136.50" cy="446.84" r="1.1" fill="#9c1030"/>
<circle cx="133.10" cy="449.20" r="1.1" fill="#9c1030"/>
<circle cx="134.90" cy="452.57" r="1.1" fill="#9c1030"/>
<circle cx="134.90" cy="456.62" r="1.1" fill="#9c1030"/>
<circle cx="149.70" cy="482.27" r="1.1" fill="#183e6c"/>
<circle cx="152.10" cy="481.60" r="1.1" fill="#183e6c"/>
<circle cx="154.50" cy="480.93" r="1.1" fill="#183e6c"/>
<circle cx="156.70" cy="480.93" r="1.1" fill="#183e6c"/>
<circle cx="158.90" cy="481.94" r="1.1" fill="#183e6c"/>
<circle cx="161.10" cy="481.26" r="1.1" fill="#183e6c"/>
<circle cx="163.20" cy="483.29" r="1.1" fill="#183e6c"/>
<circle cx="156.70" cy="436.38" r="1.1" fill="#1a2433"/>
<line x1="198.50" y1="419.90" x2="198.50" y2="490.00" stroke="#1a1a1a" stroke-width="1.25"/>
<line x1="198.10" y1="489.70" x2="248.80" y2="489.70" stroke="#1a1a1a" stroke-width="1.25"/>
<line x1="195.60" y1="489.70" x2="198.50" y2="489.70" stroke="#1a1a1a" stroke-width="0.8"/>
<text x="192.20" y="492.20" font-size="7.1" text-anchor="end" fill="#333" textLength="3.63" lengthAdjust="spacingAndGlyphs" stroke="#333" stroke-width="0.15">0</text>
<line x1="195.60" y1="472.82" x2="198.50" y2="472.82" stroke="#1a1a1a" stroke-width="0.8"/>
<text x="192.20" y="475.32" font-size="7.1" text-anchor="end" fill="#333" textLength="7.27" lengthAdjust="spacingAndGlyphs" stroke="#333" stroke-width="0.15">10</text>
<line x1="195.60" y1="455.95" x2="198.50" y2="455.95" stroke="#1a1a1a" stroke-width="0.8"/>
<text x="192.20" y="458.45" font-size="7.1" text-anchor="end" fill="#333" textLength="7.27" lengthAdjust="spacingAndGlyphs" stroke="#333" stroke-width="0.15">20</text>
<line x1="195.60" y1="439.07" x2="198.50" y2="439.07" stroke="#1a1a1a" stroke-width="0.8"/>
<text x="192.20" y="441.57" font-size="7.1" text-anchor="end" fill="#333" textLength="7.27" lengthAdjust="spacingAndGlyphs" stroke="#333" stroke-width="0.15">30</text>
<line x1="195.60" y1="422.20" x2="198.50" y2="422.20" stroke="#1a1a1a" stroke-width="0.8"/>
<text x="192.20" y="424.70" font-size="7.1" text-anchor="end" fill="#333" textLength="7.27" lengthAdjust="spacingAndGlyphs" stroke="#333" stroke-width="0.15">40</text>
<line x1="212.80" y1="489.70" x2="212.80" y2="492.30" stroke="#1a1a1a" stroke-width="0.8"/>
<line x1="234.60" y1="489.70" x2="234.60" y2="492.30" stroke="#1a1a1a" stroke-width="0.8"/>
<text x="212.80" y="501.60" font-size="6.6" text-anchor="middle" fill="#333" textLength="9.60" lengthAdjust="spacingAndGlyphs" stroke="#333" stroke-width="0.15">WT</text>
<text x="234.60" y="501.60" font-size="6.6" text-anchor="middle" fill="#333" textLength="9.30" lengthAdjust="spacingAndGlyphs" stroke="#333" stroke-width="0.15">KO</text>
<text x="223.80" y="414.10" font-size="8.4" text-anchor="middle" fill="#333" textLength="23.50" lengthAdjust="spacingAndGlyphs" stroke="#333" stroke-width="0.15">CD8+</text>
<text x="221.90" y="424.50" font-size="6.4" text-anchor="middle" fill="#333" textLength="21.40" lengthAdjust="spacingAndGlyphs" stroke="#333" stroke-width="0.15"><tspan font-style="italic">P</tspan> &gt; .01</text>
<line x1="205.60" y1="468.44" x2="220.40" y2="468.44" stroke="#d8304a" stroke-width="0.9"/>
<line x1="227.40" y1="482.44" x2="242.20" y2="482.44" stroke="#3d7fc0" stroke-width="0.9"/>
<circle cx="212.80" cy="464.39" r="1.1" fill="#9c1030"/>
<circle cx="210.20" cy="467.76" r="1.1" fill="#9c1030"/>
<circle cx="212.80" cy="467.76" r="1.1" fill="#9c1030"/>
<circle cx="215.40" cy="468.44" r="1.1" fill="#9c1030"/>
<circle cx="207.80" cy="468.61" r="1.1" fill="#9c1030"/>
<circle cx="218.50" cy="468.61" r="1.1" fill="#9c1030"/>
<circle cx="212.80" cy="471.98" r="1.1" fill="#9c1030"/>
<circle cx="212.80" cy="475.36" r="1.1" fill="#9c1030"/>
<circle cx="228.40" cy="484.97" r="1.1" fill="#183e6c"/>
<circle cx="230.40" cy="482.11" r="1.1" fill="#183e6c"/>
<circle cx="232.60" cy="484.30" r="1.1" fill="#183e6c"/>
<circle cx="234.60" cy="480.93" r="1.1" fill="#183e6c"/>
<circle cx="236.60" cy="483.79" r="1.1" fill="#183e6c"/>
<circle cx="238.60" cy="480.93" r="1.1" fill="#183e6c"/>
<circle cx="240.60" cy="484.30" r="1.1" fill="#183e6c"/>
<circle cx="234.60" cy="436.54" r="1.1" fill="#1a2433"/>
<line x1="272.90" y1="419.90" x2="272.90" y2="490.00" stroke="#1a1a1a" stroke-width="1.25"/>
<line x1="272.50" y1="489.70" x2="323.20" y2="489.70" stroke="#1a1a1a" stroke-width="1.25"/>
<line x1="270.00" y1="489.70" x2="272.90" y2="489.70" stroke="#1a1a1a" stroke-width="0.8"/>
<text x="266.60" y="492.20" font-size="7.1" text-anchor="end" fill="#333" textLength="3.63" lengthAdjust="spacingAndGlyphs" stroke="#333" stroke-width="0.15">0</text>
<line x1="270.00" y1="472.82" x2="272.90" y2="472.82" stroke="#1a1a1a" stroke-width="0.8"/>
<text x="266.60" y="475.32" font-size="7.1" text-anchor="end" fill="#333" textLength="3.63" lengthAdjust="spacingAndGlyphs" stroke="#333" stroke-width="0.15">2</text>
<line x1="270.00" y1="455.95" x2="272.90" y2="455.95" stroke="#1a1a1a" stroke-width="0.8"/>
<text x="266.60" y="458.45" font-size="7.1" text-anchor="end" fill="#333" textLength="3.63" lengthAdjust="spacingAndGlyphs" stroke="#333" stroke-width="0.15">4</text>
<line x1="270.00" y1="439.07" x2="272.90" y2="439.07" stroke="#1a1a1a" stroke-width="0.8"/>
<text x="266.60" y="441.57" font-size="7.1" text-anchor="end" fill="#333" textLength="3.63" lengthAdjust="spacingAndGlyphs" stroke="#333" stroke-width="0.15">6</text>
<line x1="270.00" y1="422.20" x2="272.90" y2="422.20" stroke="#1a1a1a" stroke-width="0.8"/>
<text x="266.60" y="424.70" font-size="7.1" text-anchor="end" fill="#333" textLength="3.63" lengthAdjust="spacingAndGlyphs" stroke="#333" stroke-width="0.15">8</text>
<line x1="287.20" y1="489.70" x2="287.20" y2="492.30" stroke="#1a1a1a" stroke-width="0.8"/>
<line x1="309.00" y1="489.70" x2="309.00" y2="492.30" stroke="#1a1a1a" stroke-width="0.8"/>
<text x="287.20" y="501.60" font-size="6.6" text-anchor="middle" fill="#333" textLength="9.60" lengthAdjust="spacingAndGlyphs" stroke="#333" stroke-width="0.15">WT</text>
<text x="309.00" y="501.60" font-size="6.6" text-anchor="middle" fill="#333" textLength="9.30" lengthAdjust="spacingAndGlyphs" stroke="#333" stroke-width="0.15">KO</text>
<text x="298.20" y="414.10" font-size="8.4" text-anchor="middle" fill="#333" textLength="20.40" lengthAdjust="spacingAndGlyphs" stroke="#333" stroke-width="0.15">T reg</text>
<text x="296.30" y="424.50" font-size="6.4" text-anchor="middle" fill="#333" textLength="25.00" lengthAdjust="spacingAndGlyphs" stroke="#333" stroke-width="0.15"><tspan font-style="italic">P</tspan> &gt; .001</text>
<line x1="280.00" y1="451.73" x2="294.80" y2="451.73" stroke="#d8304a" stroke-width="0.9"/>
<line x1="301.80" y1="485.48" x2="316.60" y2="485.48" stroke="#3d7fc0" stroke-width="0.9"/>
<circle cx="287.20" cy="432.32" r="1.1" fill="#9c1030"/>
<circle cx="287.20" cy="444.14" r="1.1" fill="#9c1030"/>
<circle cx="287.20" cy="447.51" r="1.1" fill="#9c1030"/>
<circle cx="287.20" cy="450.89" r="1.1" fill="#9c1030"/>
<circle cx="285.60" cy="452.57" r="1.1" fill="#9c1030"/>
<circle cx="288.80" cy="452.57" r="1.1" fill="#9c1030"/>
<circle cx="286.00" cy="455.11" r="1.1" fill="#9c1030"/>
<circle cx="288.40" cy="455.95" r="1.1" fill="#9c1030"/>
<circle cx="287.20" cy="462.70" r="1.1" fill="#9c1030"/>
<circle cx="303.00" cy="485.06" r="1.1" fill="#183e6c"/>
<circle cx="305.40" cy="484.64" r="1.1" fill="#183e6c"/>
<circle cx="307.80" cy="485.48" r="1.1" fill="#183e6c"/>
<circle cx="310.20" cy="485.06" r="1.1" fill="#183e6c"/>
<circle cx="312.60" cy="485.90" r="1.1" fill="#183e6c"/>
<circle cx="315.00" cy="485.06" r="1.1" fill="#183e6c"/>
<circle cx="309.00" cy="475.78" r="1.1" fill="#1a2433"/>
<line x1="44.80" y1="522.90" x2="44.80" y2="593.40" stroke="#1a1a1a" stroke-width="1.25"/>
<line x1="44.40" y1="593.10" x2="95.10" y2="593.10" stroke="#1a1a1a" stroke-width="1.25"/>
<line x1="41.90" y1="593.10" x2="44.80" y2="593.10" stroke="#1a1a1a" stroke-width="0.8"/>
<text x="38.50" y="595.60" font-size="7.1" text-anchor="end" fill="#333" textLength="3.63" lengthAdjust="spacingAndGlyphs" stroke="#333" stroke-width="0.15">0</text>
<line x1="41.90" y1="579.52" x2="44.80" y2="579.52" stroke="#1a1a1a" stroke-width="0.8"/>
<text x="38.50" y="582.02" font-size="7.1" text-anchor="end" fill="#333" textLength="3.63" lengthAdjust="spacingAndGlyphs" stroke="#333" stroke-width="0.15">2</text>
<line x1="41.90" y1="565.94" x2="44.80" y2="565.94" stroke="#1a1a1a" stroke-width="0.8"/>
<text x="38.50" y="568.44" font-size="7.1" text-anchor="end" fill="#333" textLength="3.63" lengthAdjust="spacingAndGlyphs" stroke="#333" stroke-width="0.15">4</text>
<line x1="41.90" y1="552.36" x2="44.80" y2="552.36" stroke="#1a1a1a" stroke-width="0.8"/>
<text x="38.50" y="554.86" font-size="7.1" text-anchor="end" fill="#333" textLength="3.63" lengthAdjust="spacingAndGlyphs" stroke="#333" stroke-width="0.15">6</text>
<line x1="41.90" y1="538.78" x2="44.80" y2="538.78" stroke="#1a1a1a" stroke-width="0.8"/>
<text x="38.50" y="541.28" font-size="7.1" text-anchor="end" fill="#333" textLength="3.63" lengthAdjust="spacingAndGlyphs" stroke="#333" stroke-width="0.15">8</text>
<line x1="41.90" y1="525.20" x2="44.80" y2="525.20" stroke="#1a1a1a" stroke-width="0.8"/>
<text x="38.50" y="527.70" font-size="7.1" text-anchor="end" fill="#333" textLength="7.27" lengthAdjust="spacingAndGlyphs" stroke="#333" stroke-width="0.15">10</text>
<line x1="59.10" y1="593.10" x2="59.10" y2="595.70" stroke="#1a1a1a" stroke-width="0.8"/>
<line x1="80.90" y1="593.10" x2="80.90" y2="595.70" stroke="#1a1a1a" stroke-width="0.8"/>
<text x="59.10" y="605.00" font-size="6.6" text-anchor="middle" fill="#333" textLength="9.60" lengthAdjust="spacingAndGlyphs" stroke="#333" stroke-width="0.15">WT</text>
<text x="80.90" y="605.00" font-size="6.6" text-anchor="middle" fill="#333" textLength="9.30" lengthAdjust="spacingAndGlyphs" stroke="#333" stroke-width="0.15">KO</text>
<text x="70.10" y="517.10" font-size="8.4" text-anchor="middle" fill="#333" textLength="32.70" lengthAdjust="spacingAndGlyphs" stroke="#333" stroke-width="0.15">NK cells</text>
<text x="68.20" y="527.50" font-size="6.4" text-anchor="middle" fill="#333" textLength="25.00" lengthAdjust="spacingAndGlyphs" stroke="#333" stroke-width="0.15"><tspan font-style="italic">P</tspan> &gt; .001</text>
<line x1="51.90" y1="546.93" x2="66.70" y2="546.93" stroke="#d8304a" stroke-width="0.9"/>
<line x1="73.70" y1="581.56" x2="88.50" y2="581.56" stroke="#3d7fc0" stroke-width="0.9"/>
<circle cx="59.70" cy="536.06" r="1.1" fill="#9c1030"/>
<circle cx="59.70" cy="540.14" r="1.1" fill="#9c1030"/>
<circle cx="60.50" cy="545.57" r="1.1" fill="#9c1030"/>
<circle cx="57.90" cy="546.93" r="1.1" fill="#9c1030"/>
<circle cx="62.30" cy="546.25" r="1.1" fill="#9c1030"/>
<circle cx="59.70" cy="552.36" r="1.1" fill="#9c1030"/>
<circle cx="55.90" cy="559.83" r="1.1" fill="#9c1030"/>
<circle cx="61.50" cy="557.79" r="1.1" fill="#9c1030"/>
<circle cx="80.90" cy="578.16" r="1.1" fill="#183e6c"/>
<circle cx="79.50" cy="580.88" r="1.1" fill="#183e6c"/>
<circle cx="82.40" cy="581.56" r="1.1" fill="#183e6c"/>
<circle cx="80.90" cy="583.59" r="1.1" fill="#183e6c"/>
<circle cx="78.90" cy="582.24" r="1.1" fill="#183e6c"/>
<circle cx="80.90" cy="586.31" r="1.1" fill="#183e6c"/>
<circle cx="79.50" cy="584.61" r="1.1" fill="#183e6c"/>
<circle cx="80.90" cy="558.47" r="1.1" fill="#1a2433"/>
<line x1="120.00" y1="522.90" x2="120.00" y2="593.40" stroke="#1a1a1a" stroke-width="1.25"/>
<line x1="119.60" y1="593.10" x2="170.30" y2="593.10" stroke="#1a1a1a" stroke-width="1.25"/>
<line x1="117.10" y1="593.10" x2="120.00" y2="593.10" stroke="#1a1a1a" stroke-width="0.8"/>
<text x="113.70" y="595.60" font-size="7.1" text-anchor="end" fill="#333" textLength="3.63" lengthAdjust="spacingAndGlyphs" stroke="#333" stroke-width="0.15">0</text>
<line x1="117.10" y1="579.52" x2="120.00" y2="579.52" stroke="#1a1a1a" stroke-width="0.8"/>
<text x="113.70" y="582.02" font-size="7.1" text-anchor="end" fill="#333" textLength="3.63" lengthAdjust="spacingAndGlyphs" stroke="#333" stroke-width="0.15">1</text>
<line x1="117.10" y1="565.94" x2="120.00" y2="565.94" stroke="#1a1a1a" stroke-width="0.8"/>
<text x="113.70" y="568.44" font-size="7.1" text-anchor="end" fill="#333" textLength="3.63" lengthAdjust="spacingAndGlyphs" stroke="#333" stroke-width="0.15">2</text>
<line x1="117.10" y1="552.36" x2="120.00" y2="552.36" stroke="#1a1a1a" stroke-width="0.8"/>
<text x="113.70" y="554.86" font-size="7.1" text-anchor="end" fill="#333" textLength="3.63" lengthAdjust="spacingAndGlyphs" stroke="#333" stroke-width="0.15">3</text>
<line x1="117.10" y1="538.78" x2="120.00" y2="538.78" stroke="#1a1a1a" stroke-width="0.8"/>
<text x="113.70" y="541.28" font-size="7.1" text-anchor="end" fill="#333" textLength="3.63" lengthAdjust="spacingAndGlyphs" stroke="#333" stroke-width="0.15">4</text>
<line x1="117.10" y1="525.20" x2="120.00" y2="525.20" stroke="#1a1a1a" stroke-width="0.8"/>
<text x="113.70" y="527.70" font-size="7.1" text-anchor="end" fill="#333" textLength="3.63" lengthAdjust="spacingAndGlyphs" stroke="#333" stroke-width="0.15">5</text>
<line x1="134.30" y1="593.10" x2="134.30" y2="595.70" stroke="#1a1a1a" stroke-width="0.8"/>
<line x1="156.10" y1="593.10" x2="156.10" y2="595.70" stroke="#1a1a1a" stroke-width="0.8"/>
<text x="134.30" y="605.00" font-size="6.6" text-anchor="middle" fill="#333" textLength="9.60" lengthAdjust="spacingAndGlyphs" stroke="#333" stroke-width="0.15">WT</text>
<text x="156.10" y="605.00" font-size="6.6" text-anchor="middle" fill="#333" textLength="9.30" lengthAdjust="spacingAndGlyphs" stroke="#333" stroke-width="0.15">KO</text>
<text x="145.30" y="517.10" font-size="8.4" text-anchor="middle" fill="#333" textLength="50.90" lengthAdjust="spacingAndGlyphs" stroke="#333" stroke-width="0.15">Macrophage</text>
<text x="143.40" y="527.50" font-size="6.4" text-anchor="middle" fill="#333" textLength="25.00" lengthAdjust="spacingAndGlyphs" stroke="#333" stroke-width="0.15"><tspan font-style="italic">P</tspan> &gt; .001</text>
<line x1="127.10" y1="584.27" x2="141.90" y2="584.27" stroke="#d8304a" stroke-width="0.9"/>
<line x1="148.90" y1="572.73" x2="163.70" y2="572.73" stroke="#3d7fc0" stroke-width="0.9"/>
<circle cx="134.30" cy="570.01" r="1.1" fill="#9c1030"/>
<circle cx="132.10" cy="578.16" r="1.1" fill="#9c1030"/>
<circle cx="136.30" cy="580.20" r="1.1" fill="#9c1030"/>
<circle cx="134.30" cy="583.59" r="1.1" fill="#9c1030"/>
<circle cx="132.10" cy="586.31" r="1.1" fill="#9c1030"/>
<circle cx="136.30" cy="589.03" r="1.1" fill="#9c1030"/>
<circle cx="132.10" cy="589.71" r="1.1" fill="#9c1030"/>
<circle cx="156.10" cy="560.51" r="1.1" fill="#183e6c"/>
<circle cx="153.60" cy="570.01" r="1.1" fill="#183e6c"/>
<circle cx="158.60" cy="570.01" r="1.1" fill="#183e6c"/>
<circle cx="156.10" cy="574.77" r="1.1" fill="#183e6c"/>
<circle cx="156.10" cy="581.56" r="1.1" fill="#183e6c"/>
<circle cx="156.10" cy="588.35" r="1.1" fill="#183e6c"/>
<circle cx="153.60" cy="575.45" r="1.1" fill="#183e6c"/>
<circle cx="156.10" cy="538.78" r="1.1" fill="#1a2433"/>
<line x1="199.00" y1="522.90" x2="199.00" y2="593.40" stroke="#1a1a1a" stroke-width="1.25"/>
<line x1="198.60" y1="593.10" x2="249.30" y2="593.10" stroke="#1a1a1a" stroke-width="1.25"/>
<line x1="196.10" y1="593.10" x2="199.00" y2="593.10" stroke="#1a1a1a" stroke-width="0.8"/>
<text x="192.70" y="595.60" font-size="7.1" text-anchor="end" fill="#333" textLength="12.71" lengthAdjust="spacingAndGlyphs" stroke="#333" stroke-width="0.15">0.00</text>
<line x1="196.10" y1="579.52" x2="199.00" y2="579.52" stroke="#1a1a1a" stroke-width="0.8"/>
<text x="192.70" y="582.02" font-size="7.1" text-anchor="end" fill="#333" textLength="12.71" lengthAdjust="spacingAndGlyphs" stroke="#333" stroke-width="0.15">0.01</text>
<line x1="196.10" y1="565.94" x2="199.00" y2="565.94" stroke="#1a1a1a" stroke-width="0.8"/>
<text x="192.70" y="568.44" font-size="7.1" text-anchor="end" fill="#333" textLength="12.71" lengthAdjust="spacingAndGlyphs" stroke="#333" stroke-width="0.15">0.02</text>
<line x1="196.10" y1="552.36" x2="199.00" y2="552.36" stroke="#1a1a1a" stroke-width="0.8"/>
<text x="192.70" y="554.86" font-size="7.1" text-anchor="end" fill="#333" textLength="12.71" lengthAdjust="spacingAndGlyphs" stroke="#333" stroke-width="0.15">0.03</text>
<line x1="196.10" y1="538.78" x2="199.00" y2="538.78" stroke="#1a1a1a" stroke-width="0.8"/>
<text x="192.70" y="541.28" font-size="7.1" text-anchor="end" fill="#333" textLength="12.71" lengthAdjust="spacingAndGlyphs" stroke="#333" stroke-width="0.15">0.04</text>
<line x1="196.10" y1="525.20" x2="199.00" y2="525.20" stroke="#1a1a1a" stroke-width="0.8"/>
<text x="192.70" y="527.70" font-size="7.1" text-anchor="end" fill="#333" textLength="12.71" lengthAdjust="spacingAndGlyphs" stroke="#333" stroke-width="0.15">0.05</text>
<line x1="213.30" y1="593.10" x2="213.30" y2="595.70" stroke="#1a1a1a" stroke-width="0.8"/>
<line x1="235.10" y1="593.10" x2="235.10" y2="595.70" stroke="#1a1a1a" stroke-width="0.8"/>
<text x="213.30" y="605.00" font-size="6.6" text-anchor="middle" fill="#333" textLength="9.60" lengthAdjust="spacingAndGlyphs" stroke="#333" stroke-width="0.15">WT</text>
<text x="235.10" y="605.00" font-size="6.6" text-anchor="middle" fill="#333" textLength="9.30" lengthAdjust="spacingAndGlyphs" stroke="#333" stroke-width="0.15">KO</text>
<text x="224.30" y="517.10" font-size="8.4" text-anchor="middle" fill="#333" textLength="40.00" lengthAdjust="spacingAndGlyphs" stroke="#333" stroke-width="0.15">Monocyte</text>
<text x="222.40" y="527.50" font-size="6.4" text-anchor="middle" fill="#333" textLength="25.00" lengthAdjust="spacingAndGlyphs" stroke="#333" stroke-width="0.15"><tspan font-style="italic">P</tspan> &gt; .051</text>
<line x1="206.10" y1="565.94" x2="220.90" y2="565.94" stroke="#d8304a" stroke-width="0.9"/>
<line x1="227.90" y1="579.52" x2="242.70" y2="579.52" stroke="#3d7fc0" stroke-width="0.9"/>
<circle cx="213.30" cy="538.78" r="1.1" fill="#9c1030"/>
<circle cx="213.30" cy="552.36" r="1.1" fill="#9c1030"/>
<circle cx="209.10" cy="565.94" r="1.1" fill="#9c1030"/>
<circle cx="211.90" cy="565.94" r="1.1" fill="#9c1030"/>
<circle cx="214.70" cy="565.94" r="1.1" fill="#9c1030"/>
<circle cx="217.50" cy="565.94" r="1.1" fill="#9c1030"/>
<circle cx="213.30" cy="579.52" r="1.1" fill="#9c1030"/>
<circle cx="213.30" cy="593.10" r="1.1" fill="#9c1030"/>
<circle cx="229.50" cy="579.52" r="1.1" fill="#183e6c"/>
<circle cx="232.30" cy="579.52" r="1.1" fill="#183e6c"/>
<circle cx="235.10" cy="579.52" r="1.1" fill="#183e6c"/>
<circle cx="237.90" cy="579.52" r="1.1" fill="#183e6c"/>
<circle cx="240.70" cy="579.52" r="1.1" fill="#183e6c"/>
<circle cx="233.70" cy="593.10" r="1.1" fill="#183e6c"/>
<circle cx="236.50" cy="593.10" r="1.1" fill="#183e6c"/>
<line x1="272.70" y1="522.90" x2="272.70" y2="593.40" stroke="#1a1a1a" stroke-width="1.25"/>
<line x1="272.30" y1="593.10" x2="323.00" y2="593.10" stroke="#1a1a1a" stroke-width="1.25"/>
<line x1="269.80" y1="593.10" x2="272.70" y2="593.10" stroke="#1a1a1a" stroke-width="0.8"/>
<text x="266.40" y="595.60" font-size="7.1" text-anchor="end" fill="#333" textLength="9.08" lengthAdjust="spacingAndGlyphs" stroke="#333" stroke-width="0.15">0.0</text>
<line x1="269.80" y1="579.52" x2="272.70" y2="579.52" stroke="#1a1a1a" stroke-width="0.8"/>
<text x="266.40" y="582.02" font-size="7.1" text-anchor="end" fill="#333" textLength="9.08" lengthAdjust="spacingAndGlyphs" stroke="#333" stroke-width="0.15">0.1</text>
<line x1="269.80" y1="565.94" x2="272.70" y2="565.94" stroke="#1a1a1a" stroke-width="0.8"/>
<text x="266.40" y="568.44" font-size="7.1" text-anchor="end" fill="#333" textLength="9.08" lengthAdjust="spacingAndGlyphs" stroke="#333" stroke-width="0.15">0.2</text>
<line x1="269.80" y1="552.36" x2="272.70" y2="552.36" stroke="#1a1a1a" stroke-width="0.8"/>
<text x="266.40" y="554.86" font-size="7.1" text-anchor="end" fill="#333" textLength="9.08" lengthAdjust="spacingAndGlyphs" stroke="#333" stroke-width="0.15">0.3</text>
<line x1="269.80" y1="538.78" x2="272.70" y2="538.78" stroke="#1a1a1a" stroke-width="0.8"/>
<text x="266.40" y="541.28" font-size="7.1" text-anchor="end" fill="#333" textLength="9.08" lengthAdjust="spacingAndGlyphs" stroke="#333" stroke-width="0.15">0.4</text>
<line x1="269.80" y1="525.20" x2="272.70" y2="525.20" stroke="#1a1a1a" stroke-width="0.8"/>
<text x="266.40" y="527.70" font-size="7.1" text-anchor="end" fill="#333" textLength="9.08" lengthAdjust="spacingAndGlyphs" stroke="#333" stroke-width="0.15">0.5</text>
<line x1="287.00" y1="593.10" x2="287.00" y2="595.70" stroke="#1a1a1a" stroke-width="0.8"/>
<line x1="308.80" y1="593.10" x2="308.80" y2="595.70" stroke="#1a1a1a" stroke-width="0.8"/>
<text x="287.00" y="605.00" font-size="6.6" text-anchor="middle" fill="#333" textLength="9.60" lengthAdjust="spacingAndGlyphs" stroke="#333" stroke-width="0.15">WT</text>
<text x="308.80" y="605.00" font-size="6.6" text-anchor="middle" fill="#333" textLength="9.30" lengthAdjust="spacingAndGlyphs" stroke="#333" stroke-width="0.15">KO</text>
<text x="298.00" y="517.10" font-size="8.4" text-anchor="middle" fill="#333" textLength="49.60" lengthAdjust="spacingAndGlyphs" stroke="#333" stroke-width="0.15">Granulocyte</text>
<text x="296.10" y="527.50" font-size="6.4" text-anchor="middle" fill="#333" textLength="21.70" lengthAdjust="spacingAndGlyphs" stroke="#333" stroke-width="0.15"><tspan font-style="italic">P</tspan> &gt; .05</text>
<line x1="279.80" y1="561.87" x2="294.60" y2="561.87" stroke="#d8304a" stroke-width="0.9"/>
<line x1="301.60" y1="576.12" x2="316.40" y2="576.12" stroke="#3d7fc0" stroke-width="0.9"/>
<circle cx="287.00" cy="533.35" r="1.1" fill="#9c1030"/>
<circle cx="287.00" cy="537.42" r="1.1" fill="#9c1030"/>
<circle cx="287.00" cy="557.79" r="1.1" fill="#9c1030"/>
<circle cx="283.80" cy="561.87" r="1.1" fill="#9c1030"/>
<circle cx="287.00" cy="561.87" r="1.1" fill="#9c1030"/>
<circle cx="290.20" cy="561.87" r="1.1" fill="#9c1030"/>
<circle cx="285.00" cy="565.94" r="1.1" fill="#9c1030"/>
<circle cx="289.00" cy="564.58" r="1.1" fill="#9c1030"/>
<circle cx="308.80" cy="567.30" r="1.1" fill="#183e6c"/>
<circle cx="308.80" cy="570.01" r="1.1" fill="#183e6c"/>
<circle cx="306.60" cy="572.73" r="1.1" fill="#183e6c"/>
<circle cx="310.40" cy="574.09" r="1.1" fill="#183e6c"/>
<circle cx="308.80" cy="576.12" r="1.1" fill="#183e6c"/>
<circle cx="306.40" cy="578.16" r="1.1" fill="#183e6c"/>
<circle cx="311.20" cy="578.16" r="1.1" fill="#183e6c"/>
<circle cx="308.80" cy="583.59" r="1.1" fill="#183e6c"/>
<text x="25.20" y="454.80" font-size="8.6" text-anchor="middle" fill="#333" textLength="42.20" lengthAdjust="spacingAndGlyphs" transform="rotate(-90 25.20 454.80)" stroke="#333" stroke-width="0.15">% Population</text>
<text x="25.00" y="558.80" font-size="8.6" text-anchor="middle" fill="#333" textLength="42.20" lengthAdjust="spacingAndGlyphs" transform="rotate(-90 25.00 558.80)" stroke="#333" stroke-width="0.15">% Population</text>
<defs><pattern id="hatch" patternUnits="userSpaceOnUse" width="10.6" height="4.2"><path d="M0,0 L10.6,4.2 M0,4.2 L10.6,0" stroke="#fff" stroke-width="0.5" opacity="0.7"/></pattern></defs>
<text x="419.30" y="350.70" font-size="6.6" text-anchor="end" fill="#3a3a3a" textLength="39.67" lengthAdjust="spacingAndGlyphs" stroke="#3a3a3a" stroke-width="0.04">ACC (n = 79)</text>
<line x1="422.40" y1="348.40" x2="425.40" y2="348.40" stroke="#1a1a1a" stroke-width="0.9"/>
<rect x="429.00" y="346.30" width="10.60" height="4.20" fill="rgb(253,247,246)"/>
<g transform="translate(429.00,346.30)" opacity="0.55"><rect width="10.6" height="4.2" fill="none" stroke="rgb(249,226,222)" stroke-width="0.3"/><path d="M0,0 L10.6,4.2 M0,4.2 L10.6,0" stroke="rgb(249,226,222)" stroke-width="0.3"/></g>
<rect x="444.05" y="346.30" width="10.60" height="4.20" fill="rgb(243,195,187)"/>
<rect x="459.10" y="346.30" width="10.60" height="4.20" fill="rgb(243,198,190)"/>
<text x="419.30" y="357.23" font-size="6.6" text-anchor="end" fill="#3a3a3a" textLength="46.44" lengthAdjust="spacingAndGlyphs" stroke="#3a3a3a" stroke-width="0.04">BLCA (n = 408)</text>
<line x1="422.40" y1="354.93" x2="425.40" y2="354.93" stroke="#1a1a1a" stroke-width="0.9"/>
<rect x="429.00" y="352.83" width="10.60" height="4.20" fill="rgb(254,250,250)"/>
<g transform="translate(429.00,352.83)" opacity="0.55"><rect width="10.6" height="4.2" fill="none" stroke="rgb(250,231,228)" stroke-width="0.3"/><path d="M0,0 L10.6,4.2 M0,4.2 L10.6,0" stroke="rgb(250,231,228)" stroke-width="0.3"/></g>
<rect x="444.05" y="352.83" width="10.60" height="4.20" fill="rgb(254,250,250)"/>
<g transform="translate(444.05,352.83)" opacity="0.55"><rect width="10.6" height="4.2" fill="none" stroke="rgb(250,231,228)" stroke-width="0.3"/><path d="M0,0 L10.6,4.2 M0,4.2 L10.6,0" stroke="rgb(250,231,228)" stroke-width="0.3"/></g>
<rect x="459.10" y="352.83" width="10.60" height="4.20" fill="rgb(254,250,250)"/>
<g transform="translate(459.10,352.83)" opacity="0.55"><rect width="10.6" height="4.2" fill="none" stroke="rgb(250,231,228)" stroke-width="0.3"/><path d="M0,0 L10.6,4.2 M0,4.2 L10.6,0" stroke="rgb(250,231,228)" stroke-width="0.3"/></g>
<text x="419.30" y="363.76" font-size="6.6" text-anchor="end" fill="#3a3a3a" textLength="50.83" lengthAdjust="spacingAndGlyphs" stroke="#3a3a3a" stroke-width="0.04">BRCA (n = 1100)</text>
<line x1="422.40" y1="361.46" x2="425.40" y2="361.46" stroke="#1a1a1a" stroke-width="0.9"/>
<rect x="429.00" y="359.36" width="10.60" height="4.20" fill="rgb(246,212,206)"/>
<g transform="translate(429.00,359.36)" opacity="0.55"><rect width="10.6" height="4.2" fill="none" stroke="rgb(238,169,158)" stroke-width="0.3"/><path d="M0,0 L10.6,4.2 M0,4.2 L10.6,0" stroke="rgb(238,169,158)" stroke-width="0.3"/></g>
<rect x="444.05" y="359.36" width="10.60" height="4.20" fill="rgb(252,240,238)"/>
<g transform="translate(444.05,359.36)" opacity="0.55"><rect width="10.6" height="4.2" fill="none" stroke="rgb(247,215,210)" stroke-width="0.3"/><path d="M0,0 L10.6,4.2 M0,4.2 L10.6,0" stroke="rgb(247,215,210)" stroke-width="0.3"/></g>
<rect x="459.10" y="359.36" width="10.60" height="4.20" fill="rgb(242,191,182)"/>
<text x="419.30" y="370.29" font-size="6.6" text-anchor="end" fill="#3a3a3a" textLength="67.12" lengthAdjust="spacingAndGlyphs" stroke="#3a3a3a" stroke-width="0.04">BRCA-Basal (n = 191)</text>
<line x1="422.40" y1="367.99" x2="425.40" y2="367.99" stroke="#1a1a1a" stroke-width="0.9"/>
<rect x="429.00" y="365.89" width="10.60" height="4.20" fill="rgb(243,198,190)"/>
<rect x="444.05" y="365.89" width="10.60" height="4.20" fill="rgb(243,198,190)"/>
<rect x="459.10" y="365.89" width="10.60" height="4.20" fill="rgb(243,198,190)"/>
<text x="419.30" y="376.82" font-size="6.6" text-anchor="end" fill="#3a3a3a" textLength="61.09" lengthAdjust="spacingAndGlyphs" stroke="#3a3a3a" stroke-width="0.04">BRCA-Her2 (n = 82)</text>
<line x1="422.40" y1="374.52" x2="425.40" y2="374.52" stroke="#1a1a1a" stroke-width="0.9"/>
<rect x="459.10" y="372.42" width="10.60" height="4.20" fill="rgb(254,252,251)"/>
<text x="419.30" y="383.35" font-size="6.6" text-anchor="end" fill="#3a3a3a" textLength="67.49" lengthAdjust="spacingAndGlyphs" stroke="#3a3a3a" stroke-width="0.04">BRCA-LumA (n = 568)</text>
<line x1="422.40" y1="381.05" x2="425.40" y2="381.05" stroke="#1a1a1a" stroke-width="0.9"/>
<rect x="429.00" y="378.95" width="10.60" height="4.20" fill="rgb(243,195,187)"/>
<rect x="444.05" y="378.95" width="10.60" height="4.20" fill="rgb(246,212,206)"/>
<rect x="459.10" y="378.95" width="10.60" height="4.20" fill="rgb(240,184,174)"/>
<text x="419.30" y="389.88" font-size="6.6" text-anchor="end" fill="#3a3a3a" textLength="67.87" lengthAdjust="spacingAndGlyphs" stroke="#3a3a3a" stroke-width="0.04">BRCA-LumB (n = 219)</text>
<line x1="422.40" y1="387.58" x2="425.40" y2="387.58" stroke="#1a1a1a" stroke-width="0.9"/>
<rect x="429.00" y="385.48" width="10.60" height="4.20" fill="rgb(246,212,206)"/>
<g transform="translate(429.00,385.48)" opacity="0.55"><rect width="10.6" height="4.2" fill="none" stroke="rgb(238,169,158)" stroke-width="0.3"/><path d="M0,0 L10.6,4.2 M0,4.2 L10.6,0" stroke="rgb(238,169,158)" stroke-width="0.3"/></g>
<rect x="444.05" y="385.48" width="10.60" height="4.20" fill="rgb(250,233,230)"/>
<g transform="translate(444.05,385.48)" opacity="0.55"><rect width="10.6" height="4.2" fill="none" stroke="rgb(244,203,197)" stroke-width="0.3"/><path d="M0,0 L10.6,4.2 M0,4.2 L10.6,0" stroke="rgb(244,203,197)" stroke-width="0.3"/></g>
<rect x="459.10" y="385.48" width="10.60" height="4.20" fill="rgb(246,212,206)"/>
<text x="419.30" y="396.41" font-size="6.6" text-anchor="end" fill="#3a3a3a" textLength="47.94" lengthAdjust="spacingAndGlyphs" stroke="#3a3a3a" stroke-width="0.04">CESC (n = 306)</text>
<line x1="422.40" y1="394.11" x2="425.40" y2="394.11" stroke="#1a1a1a" stroke-width="0.9"/>
<rect x="429.00" y="392.01" width="10.60" height="4.20" fill="rgb(246,212,206)"/>
<rect x="444.05" y="392.01" width="10.60" height="4.20" fill="rgb(243,198,190)"/>
<rect x="459.10" y="392.01" width="10.60" height="4.20" fill="rgb(244,201,193)"/>
<text x="419.30" y="402.94" font-size="6.6" text-anchor="end" fill="#3a3a3a" textLength="43.93" lengthAdjust="spacingAndGlyphs" stroke="#3a3a3a" stroke-width="0.04">CHOL (n = 36)</text>
<line x1="422.40" y1="400.64" x2="425.40" y2="400.64" stroke="#1a1a1a" stroke-width="0.9"/>
<rect x="429.00" y="398.54" width="10.60" height="4.20" fill="rgb(252,240,238)"/>
<g transform="translate(429.00,398.54)" opacity="0.55"><rect width="10.6" height="4.2" fill="none" stroke="rgb(247,215,210)" stroke-width="0.3"/><path d="M0,0 L10.6,4.2 M0,4.2 L10.6,0" stroke="rgb(247,215,210)" stroke-width="0.3"/></g>
<rect x="459.10" y="398.54" width="10.60" height="4.20" fill="rgb(242,191,182)"/>
<text x="419.30" y="409.47" font-size="6.6" text-anchor="end" fill="#3a3a3a" textLength="48.69" lengthAdjust="spacingAndGlyphs" stroke="#3a3a3a" stroke-width="0.04">COAD (n = 458)</text>
<line x1="422.40" y1="407.17" x2="425.40" y2="407.17" stroke="#1a1a1a" stroke-width="0.9"/>
<rect x="429.00" y="405.07" width="10.60" height="4.20" fill="rgb(251,237,235)"/>
<g transform="translate(429.00,405.07)" opacity="0.55"><rect width="10.6" height="4.2" fill="none" stroke="rgb(246,210,204)" stroke-width="0.3"/><path d="M0,0 L10.6,4.2 M0,4.2 L10.6,0" stroke="rgb(246,210,204)" stroke-width="0.3"/></g>
<rect x="444.05" y="405.07" width="10.60" height="4.20" fill="rgb(251,237,235)"/>
<g transform="translate(444.05,405.07)" opacity="0.55"><rect width="10.6" height="4.2" fill="none" stroke="rgb(246,210,204)" stroke-width="0.3"/><path d="M0,0 L10.6,4.2 M0,4.2 L10.6,0" stroke="rgb(246,210,204)" stroke-width="0.3"/></g>
<text x="419.30" y="416.00" font-size="6.6" text-anchor="end" fill="#3a3a3a" textLength="43.43" lengthAdjust="spacingAndGlyphs" stroke="#3a3a3a" stroke-width="0.04">DLBC (n = 48)</text>
<line x1="422.40" y1="413.70" x2="425.40" y2="413.70" stroke="#1a1a1a" stroke-width="0.9"/>
<rect x="429.00" y="411.60" width="10.60" height="4.20" fill="rgb(252,240,238)"/>
<g transform="translate(429.00,411.60)" opacity="0.55"><rect width="10.6" height="4.2" fill="none" stroke="rgb(247,215,210)" stroke-width="0.3"/><path d="M0,0 L10.6,4.2 M0,4.2 L10.6,0" stroke="rgb(247,215,210)" stroke-width="0.3"/></g>
<rect x="444.05" y="411.60" width="10.60" height="4.20" fill="rgb(231,138,123)"/>
<rect x="459.10" y="411.60" width="10.60" height="4.20" fill="rgb(238,169,158)"/>
<text x="419.30" y="422.53" font-size="6.6" text-anchor="end" fill="#3a3a3a" textLength="47.19" lengthAdjust="spacingAndGlyphs" stroke="#3a3a3a" stroke-width="0.04">ESCA (n = 185)</text>
<line x1="422.40" y1="420.23" x2="425.40" y2="420.23" stroke="#1a1a1a" stroke-width="0.9"/>
<rect x="429.00" y="418.13" width="10.60" height="4.20" fill="rgb(243,198,190)"/>
<rect x="444.05" y="418.13" width="10.60" height="4.20" fill="rgb(249,226,222)"/>
<text x="419.30" y="429.06" font-size="6.6" text-anchor="end" fill="#3a3a3a" textLength="44.55" lengthAdjust="spacingAndGlyphs" stroke="#3a3a3a" stroke-width="0.04">GBM (n = 153)</text>
<line x1="422.40" y1="426.76" x2="425.40" y2="426.76" stroke="#1a1a1a" stroke-width="0.9"/>
<rect x="429.00" y="424.66" width="10.60" height="4.20" fill="rgb(246,212,206)"/>
<rect x="444.05" y="424.66" width="10.60" height="4.20" fill="rgb(244,201,193)"/>
<text x="419.30" y="435.59" font-size="6.6" text-anchor="end" fill="#3a3a3a" textLength="48.31" lengthAdjust="spacingAndGlyphs" stroke="#3a3a3a" stroke-width="0.04">HNSC (n = 522)</text>
<line x1="422.40" y1="433.29" x2="425.40" y2="433.29" stroke="#1a1a1a" stroke-width="0.9"/>
<rect x="429.00" y="431.19" width="10.60" height="4.20" fill="rgb(245,205,198)"/>
<rect x="444.05" y="431.19" width="10.60" height="4.20" fill="rgb(245,205,198)"/>
<rect x="459.10" y="431.19" width="10.60" height="4.20" fill="rgb(206,206,230)"/>
<text x="419.30" y="442.12" font-size="6.6" text-anchor="end" fill="#3a3a3a" textLength="68.43" lengthAdjust="spacingAndGlyphs" stroke="#3a3a3a" stroke-width="0.04">HNSC-HPV− (n = 422)</text>
<line x1="422.40" y1="439.82" x2="425.40" y2="439.82" stroke="#1a1a1a" stroke-width="0.9"/>
<rect x="429.00" y="437.72" width="10.60" height="4.20" fill="rgb(245,205,198)"/>
<rect x="444.05" y="437.72" width="10.60" height="4.20" fill="rgb(245,205,198)"/>
<rect x="459.10" y="437.72" width="10.60" height="4.20" fill="rgb(211,211,232)"/>
<text x="419.30" y="448.65" font-size="6.6" text-anchor="end" fill="#3a3a3a" textLength="64.66" lengthAdjust="spacingAndGlyphs" stroke="#3a3a3a" stroke-width="0.04">HNSC-HPV+ (n = 98)</text>
<line x1="422.40" y1="446.35" x2="425.40" y2="446.35" stroke="#1a1a1a" stroke-width="0.9"/>
<rect x="429.00" y="444.25" width="10.60" height="4.20" fill="rgb(242,191,182)"/>
<rect x="444.05" y="444.25" width="10.60" height="4.20" fill="rgb(252,240,238)"/>
<g transform="translate(444.05,444.25)" opacity="0.55"><rect width="10.6" height="4.2" fill="none" stroke="rgb(247,215,210)" stroke-width="0.3"/><path d="M0,0 L10.6,4.2 M0,4.2 L10.6,0" stroke="rgb(247,215,210)" stroke-width="0.3"/></g>
<rect x="459.10" y="444.25" width="10.60" height="4.20" fill="rgb(241,241,247)"/>
<g transform="translate(459.10,444.25)" opacity="0.55"><rect width="10.6" height="4.2" fill="none" stroke="rgb(211,211,232)" stroke-width="0.3"/><path d="M0,0 L10.6,4.2 M0,4.2 L10.6,0" stroke="rgb(211,211,232)" stroke-width="0.3"/></g>
<text x="419.30" y="455.18" font-size="6.6" text-anchor="end" fill="#3a3a3a" textLength="41.54" lengthAdjust="spacingAndGlyphs" stroke="#3a3a3a" stroke-width="0.04">KICH (n = 66)</text>
<line x1="422.40" y1="452.88" x2="425.40" y2="452.88" stroke="#1a1a1a" stroke-width="0.9"/>
<rect x="429.00" y="450.78" width="10.60" height="4.20" fill="rgb(242,191,182)"/>
<rect x="444.05" y="450.78" width="10.60" height="4.20" fill="rgb(246,246,250)"/>
<g transform="translate(444.05,450.78)" opacity="0.55"><rect width="10.6" height="4.2" fill="none" stroke="rgb(220,220,237)" stroke-width="0.3"/><path d="M0,0 L10.6,4.2 M0,4.2 L10.6,0" stroke="rgb(220,220,237)" stroke-width="0.3"/></g>
<rect x="459.10" y="450.78" width="10.60" height="4.20" fill="rgb(236,162,150)"/>
<text x="419.30" y="461.71" font-size="6.6" text-anchor="end" fill="#3a3a3a" textLength="45.31" lengthAdjust="spacingAndGlyphs" stroke="#3a3a3a" stroke-width="0.04">KIRC (n = 533)</text>
<line x1="422.40" y1="459.41" x2="425.40" y2="459.41" stroke="#1a1a1a" stroke-width="0.9"/>
<rect x="429.00" y="457.31" width="10.60" height="4.20" fill="rgb(243,198,190)"/>
<rect x="444.05" y="457.31" width="10.60" height="4.20" fill="rgb(246,212,206)"/>
<text x="419.30" y="468.24" font-size="6.6" text-anchor="end" fill="#3a3a3a" textLength="44.81" lengthAdjust="spacingAndGlyphs" stroke="#3a3a3a" stroke-width="0.04">KIRP (n = 290)</text>
<line x1="422.40" y1="465.94" x2="425.40" y2="465.94" stroke="#1a1a1a" stroke-width="0.9"/>
<rect x="429.00" y="463.84" width="10.60" height="4.20" fill="rgb(246,212,206)"/>
<rect x="444.05" y="463.84" width="10.60" height="4.20" fill="rgb(246,212,206)"/>
<rect x="459.10" y="463.84" width="10.60" height="4.20" fill="rgb(246,212,206)"/>
<text x="419.30" y="474.77" font-size="6.6" text-anchor="end" fill="#3a3a3a" textLength="43.43" lengthAdjust="spacingAndGlyphs" stroke="#3a3a3a" stroke-width="0.04">LGG (n = 516)</text>
<line x1="422.40" y1="472.47" x2="425.40" y2="472.47" stroke="#1a1a1a" stroke-width="0.9"/>
<text x="419.30" y="481.30" font-size="6.6" text-anchor="end" fill="#3a3a3a" textLength="44.56" lengthAdjust="spacingAndGlyphs" stroke="#3a3a3a" stroke-width="0.04">LIHC (n = 371)</text>
<line x1="422.40" y1="479.00" x2="425.40" y2="479.00" stroke="#1a1a1a" stroke-width="0.9"/>
<rect x="429.00" y="476.90" width="10.60" height="4.20" fill="rgb(243,198,190)"/>
<rect x="444.05" y="476.90" width="10.60" height="4.20" fill="rgb(242,191,182)"/>
<rect x="459.10" y="476.90" width="10.60" height="4.20" fill="rgb(247,219,214)"/>
<text x="419.30" y="487.83" font-size="6.6" text-anchor="end" fill="#3a3a3a" textLength="47.19" lengthAdjust="spacingAndGlyphs" stroke="#3a3a3a" stroke-width="0.04">LUAD (n = 515)</text>
<line x1="422.40" y1="485.53" x2="425.40" y2="485.53" stroke="#1a1a1a" stroke-width="0.9"/>
<rect x="429.00" y="483.43" width="10.60" height="4.20" fill="rgb(242,191,182)"/>
<rect x="444.05" y="483.43" width="10.60" height="4.20" fill="rgb(246,212,206)"/>
<rect x="459.10" y="483.43" width="10.60" height="4.20" fill="rgb(247,219,214)"/>
<text x="419.30" y="494.36" font-size="6.6" text-anchor="end" fill="#3a3a3a" textLength="47.19" lengthAdjust="spacingAndGlyphs" stroke="#3a3a3a" stroke-width="0.04">LUSC (n = 501)</text>
<line x1="422.40" y1="492.06" x2="425.40" y2="492.06" stroke="#1a1a1a" stroke-width="0.9"/>
<rect x="429.00" y="489.96" width="10.60" height="4.20" fill="rgb(246,212,206)"/>
<rect x="444.05" y="489.96" width="10.60" height="4.20" fill="rgb(247,219,214)"/>
<rect x="459.10" y="489.96" width="10.60" height="4.20" fill="rgb(249,226,222)"/>
<text x="419.30" y="500.89" font-size="6.6" text-anchor="end" fill="#3a3a3a" textLength="45.30" lengthAdjust="spacingAndGlyphs" stroke="#3a3a3a" stroke-width="0.04">MESO (n = 87)</text>
<line x1="422.40" y1="498.59" x2="425.40" y2="498.59" stroke="#1a1a1a" stroke-width="0.9"/>
<rect x="429.00" y="496.49" width="10.60" height="4.20" fill="rgb(252,240,238)"/>
<g transform="translate(429.00,496.49)" opacity="0.55"><rect width="10.6" height="4.2" fill="none" stroke="rgb(247,215,210)" stroke-width="0.3"/><path d="M0,0 L10.6,4.2 M0,4.2 L10.6,0" stroke="rgb(247,215,210)" stroke-width="0.3"/></g>
<rect x="444.05" y="496.49" width="10.60" height="4.20" fill="rgb(252,240,238)"/>
<g transform="translate(444.05,496.49)" opacity="0.55"><rect width="10.6" height="4.2" fill="none" stroke="rgb(247,215,210)" stroke-width="0.3"/><path d="M0,0 L10.6,4.2 M0,4.2 L10.6,0" stroke="rgb(247,215,210)" stroke-width="0.3"/></g>
<text x="419.30" y="507.42" font-size="6.6" text-anchor="end" fill="#3a3a3a" textLength="38.92" lengthAdjust="spacingAndGlyphs" stroke="#3a3a3a" stroke-width="0.04">OV (n = 303)</text>
<line x1="422.40" y1="505.12" x2="425.40" y2="505.12" stroke="#1a1a1a" stroke-width="0.9"/>
<rect x="429.00" y="503.02" width="10.60" height="4.20" fill="rgb(249,226,222)"/>
<rect x="444.05" y="503.02" width="10.60" height="4.20" fill="rgb(246,212,206)"/>
<text x="419.30" y="513.95" font-size="6.6" text-anchor="end" fill="#3a3a3a" textLength="47.06" lengthAdjust="spacingAndGlyphs" stroke="#3a3a3a" stroke-width="0.04">PAAD (n = 179)</text>
<line x1="422.40" y1="511.65" x2="425.40" y2="511.65" stroke="#1a1a1a" stroke-width="0.9"/>
<rect x="429.00" y="509.55" width="10.60" height="4.20" fill="rgb(239,176,166)"/>
<rect x="444.05" y="509.55" width="10.60" height="4.20" fill="rgb(245,205,198)"/>
<rect x="459.10" y="509.55" width="10.60" height="4.20" fill="rgb(238,169,158)"/>
<text x="419.30" y="520.48" font-size="6.6" text-anchor="end" fill="#3a3a3a" textLength="48.32" lengthAdjust="spacingAndGlyphs" stroke="#3a3a3a" stroke-width="0.04">PCPG (n = 181)</text>
<line x1="422.40" y1="518.18" x2="425.40" y2="518.18" stroke="#1a1a1a" stroke-width="0.9"/>
<rect x="429.00" y="516.08" width="10.60" height="4.20" fill="rgb(245,205,198)"/>
<rect x="444.05" y="516.08" width="10.60" height="4.20" fill="rgb(246,212,206)"/>
<rect x="459.10" y="516.08" width="10.60" height="4.20" fill="rgb(242,191,182)"/>
<text x="419.30" y="527.01" font-size="6.6" text-anchor="end" fill="#3a3a3a" textLength="47.94" lengthAdjust="spacingAndGlyphs" stroke="#3a3a3a" stroke-width="0.04">PRAD (n = 498)</text>
<line x1="422.40" y1="524.71" x2="425.40" y2="524.71" stroke="#1a1a1a" stroke-width="0.9"/>
<rect x="429.00" y="522.61" width="10.60" height="4.20" fill="rgb(240,184,174)"/>
<rect x="444.05" y="522.61" width="10.60" height="4.20" fill="rgb(240,184,174)"/>
<rect x="459.10" y="522.61" width="10.60" height="4.20" fill="rgb(242,191,182)"/>
<text x="419.30" y="533.54" font-size="6.6" text-anchor="end" fill="#3a3a3a" textLength="47.94" lengthAdjust="spacingAndGlyphs" stroke="#3a3a3a" stroke-width="0.04">READ (n = 166)</text>
<line x1="422.40" y1="531.24" x2="425.40" y2="531.24" stroke="#1a1a1a" stroke-width="0.9"/>
<rect x="429.00" y="529.14" width="10.60" height="4.20" fill="rgb(252,243,242)"/>
<g transform="translate(429.00,529.14)" opacity="0.55"><rect width="10.6" height="4.2" fill="none" stroke="rgb(248,219,215)" stroke-width="0.3"/><path d="M0,0 L10.6,4.2 M0,4.2 L10.6,0" stroke="rgb(248,219,215)" stroke-width="0.3"/></g>
<rect x="444.05" y="529.14" width="10.60" height="4.20" fill="rgb(252,243,242)"/>
<g transform="translate(444.05,529.14)" opacity="0.55"><rect width="10.6" height="4.2" fill="none" stroke="rgb(248,219,215)" stroke-width="0.3"/><path d="M0,0 L10.6,4.2 M0,4.2 L10.6,0" stroke="rgb(248,219,215)" stroke-width="0.3"/></g>
<rect x="459.10" y="529.14" width="10.60" height="4.20" fill="rgb(252,243,242)"/>
<g transform="translate(459.10,529.14)" opacity="0.55"><rect width="10.6" height="4.2" fill="none" stroke="rgb(248,219,215)" stroke-width="0.3"/><path d="M0,0 L10.6,4.2 M0,4.2 L10.6,0" stroke="rgb(248,219,215)" stroke-width="0.3"/></g>
<text x="419.30" y="540.07" font-size="6.6" text-anchor="end" fill="#3a3a3a" textLength="47.94" lengthAdjust="spacingAndGlyphs" stroke="#3a3a3a" stroke-width="0.04">SARC (n = 260)</text>
<line x1="422.40" y1="537.77" x2="425.40" y2="537.77" stroke="#1a1a1a" stroke-width="0.9"/>
<rect x="429.00" y="535.67" width="10.60" height="4.20" fill="rgb(254,250,250)"/>
<rect x="444.05" y="535.67" width="10.60" height="4.20" fill="rgb(245,205,198)"/>
<rect x="459.10" y="535.67" width="10.60" height="4.20" fill="rgb(252,240,238)"/>
<text x="419.30" y="546.60" font-size="6.6" text-anchor="end" fill="#3a3a3a" textLength="48.69" lengthAdjust="spacingAndGlyphs" stroke="#3a3a3a" stroke-width="0.04">SKCM (n = 471)</text>
<line x1="422.40" y1="544.30" x2="425.40" y2="544.30" stroke="#1a1a1a" stroke-width="0.9"/>
<rect x="429.00" y="542.20" width="10.60" height="4.20" fill="rgb(246,212,206)"/>
<rect x="444.05" y="542.20" width="10.60" height="4.20" fill="rgb(245,205,198)"/>
<rect x="459.10" y="542.20" width="10.60" height="4.20" fill="rgb(249,226,222)"/>
<text x="419.30" y="553.13" font-size="6.6" text-anchor="end" fill="#3a3a3a" textLength="69.36" lengthAdjust="spacingAndGlyphs" stroke="#3a3a3a" stroke-width="0.04">SKCM-Metas (n = 368)</text>
<line x1="422.40" y1="550.83" x2="425.40" y2="550.83" stroke="#1a1a1a" stroke-width="0.9"/>
<rect x="429.00" y="548.73" width="10.60" height="4.20" fill="rgb(246,212,206)"/>
<rect x="444.05" y="548.73" width="10.60" height="4.20" fill="rgb(245,205,198)"/>
<text x="419.30" y="559.66" font-size="6.6" text-anchor="end" fill="#3a3a3a" textLength="74.24" lengthAdjust="spacingAndGlyphs" stroke="#3a3a3a" stroke-width="0.04">SKCM-Primary (n = 103)</text>
<line x1="422.40" y1="557.36" x2="425.40" y2="557.36" stroke="#1a1a1a" stroke-width="0.9"/>
<rect x="459.10" y="555.26" width="10.60" height="4.20" fill="rgb(240,184,174)"/>
<text x="419.30" y="566.19" font-size="6.6" text-anchor="end" fill="#3a3a3a" textLength="46.68" lengthAdjust="spacingAndGlyphs" stroke="#3a3a3a" stroke-width="0.04">STAD (n = 415)</text>
<line x1="422.40" y1="563.89" x2="425.40" y2="563.89" stroke="#1a1a1a" stroke-width="0.9"/>
<rect x="429.00" y="561.79" width="10.60" height="4.20" fill="rgb(243,198,190)"/>
<rect x="444.05" y="561.79" width="10.60" height="4.20" fill="rgb(240,184,174)"/>
<rect x="459.10" y="561.79" width="10.60" height="4.20" fill="rgb(242,191,182)"/>
<text x="419.30" y="572.72" font-size="6.6" text-anchor="end" fill="#3a3a3a" textLength="47.43" lengthAdjust="spacingAndGlyphs" stroke="#3a3a3a" stroke-width="0.04">TGCT (n = 150)</text>
<line x1="422.40" y1="570.42" x2="425.40" y2="570.42" stroke="#1a1a1a" stroke-width="0.9"/>
<rect x="429.00" y="568.32" width="10.60" height="4.20" fill="rgb(241,241,247)"/>
<g transform="translate(429.00,568.32)" opacity="0.55"><rect width="10.6" height="4.2" fill="none" stroke="rgb(211,211,232)" stroke-width="0.3"/><path d="M0,0 L10.6,4.2 M0,4.2 L10.6,0" stroke="rgb(211,211,232)" stroke-width="0.3"/></g>
<rect x="444.05" y="568.32" width="10.60" height="4.20" fill="rgb(246,246,250)"/>
<g transform="translate(444.05,568.32)" opacity="0.55"><rect width="10.6" height="4.2" fill="none" stroke="rgb(220,220,237)" stroke-width="0.3"/><path d="M0,0 L10.6,4.2 M0,4.2 L10.6,0" stroke="rgb(220,220,237)" stroke-width="0.3"/></g>
<rect x="459.10" y="568.32" width="10.60" height="4.20" fill="rgb(240,184,174)"/>
<text x="419.30" y="579.25" font-size="6.6" text-anchor="end" fill="#3a3a3a" textLength="47.19" lengthAdjust="spacingAndGlyphs" stroke="#3a3a3a" stroke-width="0.04">THCA (n = 509)</text>
<line x1="422.40" y1="576.95" x2="425.40" y2="576.95" stroke="#1a1a1a" stroke-width="0.9"/>
<rect x="459.10" y="574.85" width="10.60" height="4.20" fill="rgb(240,184,174)"/>
<text x="419.30" y="585.78" font-size="6.6" text-anchor="end" fill="#3a3a3a" textLength="48.31" lengthAdjust="spacingAndGlyphs" stroke="#3a3a3a" stroke-width="0.04">THYM (n = 120)</text>
<line x1="422.40" y1="583.48" x2="425.40" y2="583.48" stroke="#1a1a1a" stroke-width="0.9"/>
<rect x="429.00" y="581.38" width="10.60" height="4.20" fill="rgb(240,184,174)"/>
<rect x="444.05" y="581.38" width="10.60" height="4.20" fill="rgb(240,184,174)"/>
<rect x="459.10" y="581.38" width="10.60" height="4.20" fill="rgb(237,237,246)"/>
<g transform="translate(459.10,581.38)" opacity="0.55"><rect width="10.6" height="4.2" fill="none" stroke="rgb(206,206,230)" stroke-width="0.3"/><path d="M0,0 L10.6,4.2 M0,4.2 L10.6,0" stroke="rgb(206,206,230)" stroke-width="0.3"/></g>
<text x="419.30" y="592.31" font-size="6.6" text-anchor="end" fill="#3a3a3a" textLength="48.31" lengthAdjust="spacingAndGlyphs" stroke="#3a3a3a" stroke-width="0.04">UCEC (n = 545)</text>
<line x1="422.40" y1="590.01" x2="425.40" y2="590.01" stroke="#1a1a1a" stroke-width="0.9"/>
<rect x="429.00" y="587.91" width="10.60" height="4.20" fill="rgb(246,212,206)"/>
<text x="419.30" y="598.84" font-size="6.6" text-anchor="end" fill="#3a3a3a" textLength="39.67" lengthAdjust="spacingAndGlyphs" stroke="#3a3a3a" stroke-width="0.04">UCS (n = 57)</text>
<line x1="422.40" y1="596.54" x2="425.40" y2="596.54" stroke="#1a1a1a" stroke-width="0.9"/>
<rect x="429.00" y="594.44" width="10.60" height="4.20" fill="rgb(246,212,206)"/>
<g transform="translate(429.00,594.44)" opacity="0.55"><rect width="10.6" height="4.2" fill="none" stroke="rgb(238,169,158)" stroke-width="0.3"/><path d="M0,0 L10.6,4.2 M0,4.2 L10.6,0" stroke="rgb(238,169,158)" stroke-width="0.3"/></g>
<rect x="444.05" y="594.44" width="10.60" height="4.20" fill="rgb(252,240,238)"/>
<g transform="translate(444.05,594.44)" opacity="0.55"><rect width="10.6" height="4.2" fill="none" stroke="rgb(247,215,210)" stroke-width="0.3"/><path d="M0,0 L10.6,4.2 M0,4.2 L10.6,0" stroke="rgb(247,215,210)" stroke-width="0.3"/></g>
<rect x="459.10" y="594.44" width="10.60" height="4.20" fill="rgb(252,240,238)"/>
<g transform="translate(459.10,594.44)" opacity="0.55"><rect width="10.6" height="4.2" fill="none" stroke="rgb(247,215,210)" stroke-width="0.3"/><path d="M0,0 L10.6,4.2 M0,4.2 L10.6,0" stroke="rgb(247,215,210)" stroke-width="0.3"/></g>
<text x="419.30" y="605.37" font-size="6.6" text-anchor="end" fill="#3a3a3a" textLength="40.42" lengthAdjust="spacingAndGlyphs" stroke="#3a3a3a" stroke-width="0.04">UVM (n = 80)</text>
<line x1="422.40" y1="603.07" x2="425.40" y2="603.07" stroke="#1a1a1a" stroke-width="0.9"/>
<rect x="429.00" y="600.97" width="10.60" height="4.20" fill="rgb(242,191,182)"/>
<rect x="444.05" y="600.97" width="10.60" height="4.20" fill="rgb(240,184,174)"/>
<rect x="459.10" y="600.97" width="10.60" height="4.20" fill="rgb(252,240,238)"/>
<rect x="425.5" y="344.6" width="47.10" height="262.90" fill="none" stroke="#111" stroke-width="1.2"/>
<line x1="434.30" y1="341.60" x2="434.30" y2="344.60" stroke="#1a1a1a" stroke-width="0.8"/>
<line x1="449.35" y1="341.60" x2="449.35" y2="344.60" stroke="#1a1a1a" stroke-width="0.8"/>
<line x1="464.40" y1="341.60" x2="464.40" y2="344.60" stroke="#1a1a1a" stroke-width="0.8"/>
<text x="436.30" y="337.70" font-size="7.0" fill="#333" textLength="16.40" lengthAdjust="spacingAndGlyphs" transform="rotate(-90 436.30 337.70)" stroke="#333" stroke-width="0.15">CIITA</text>
<text x="451.70" y="337.70" font-size="7.0" fill="#333" textLength="21.50" lengthAdjust="spacingAndGlyphs" transform="rotate(-90 451.70 337.70)" stroke="#333" stroke-width="0.15">NLRC5</text>
<text x="466.80" y="337.70" font-size="7.0" fill="#333" textLength="36.20" lengthAdjust="spacingAndGlyphs" transform="rotate(-90 466.80 337.70)" stroke="#333" stroke-width="0.15">CD8+ Tcells</text>
<text x="477.50" y="367.00" font-size="6.6" fill="#333" textLength="30.40" lengthAdjust="spacingAndGlyphs" stroke="#333" stroke-width="0.15">Spearman</text>
<defs><linearGradient id="sg" x1="0" y1="0" x2="0" y2="1"><stop offset="0" stop-color="#c42a2a"/><stop offset="0.25" stop-color="#ee8a80"/><stop offset="0.5" stop-color="#ffffff"/><stop offset="0.75" stop-color="#8a86c4"/><stop offset="1" stop-color="#2c2a86"/></linearGradient></defs>
<rect x="491.80" y="371.40" width="10.70" height="34.90" fill="url(#sg)"/>
<text x="488.40" y="376.30" font-size="6.4" text-anchor="end" fill="#333" stroke="#333" stroke-width="0.15">1</text>
<text x="488.80" y="391.30" font-size="6.4" text-anchor="end" fill="#333" stroke="#333" stroke-width="0.15">0</text>
<text x="488.80" y="407.60" font-size="6.4" text-anchor="end" fill="#333" stroke="#333" stroke-width="0.15">−1</text>
<g><rect x="478.6" y="439.3" width="9.3" height="4.0" fill="#fff" stroke="#333" stroke-width="0.6"/><path d="M478.6,439.3 L487.9,443.3 M478.6,443.3 L487.9,439.3" stroke="#333" stroke-width="0.5"/></g>
<text x="491.00" y="443.90" font-size="6.4" fill="#333" textLength="21.00" lengthAdjust="spacingAndGlyphs" stroke="#333" stroke-width="0.15"><tspan font-style="italic">P</tspan> &gt; .05</text>
<rect x="478.60" y="449.10" width="9.30" height="4.10" fill="#111"/>
<text x="491.00" y="453.30" font-size="6.4" fill="#333" textLength="21.00" lengthAdjust="spacingAndGlyphs" stroke="#333" stroke-width="0.15"><tspan font-style="italic">P</tspan> &lt; .05</text>
<rect x="0.5" y="0.5" width="519" height="614" fill="none" stroke="#474747" stroke-width="1.2"/>
</svg></body></html>
